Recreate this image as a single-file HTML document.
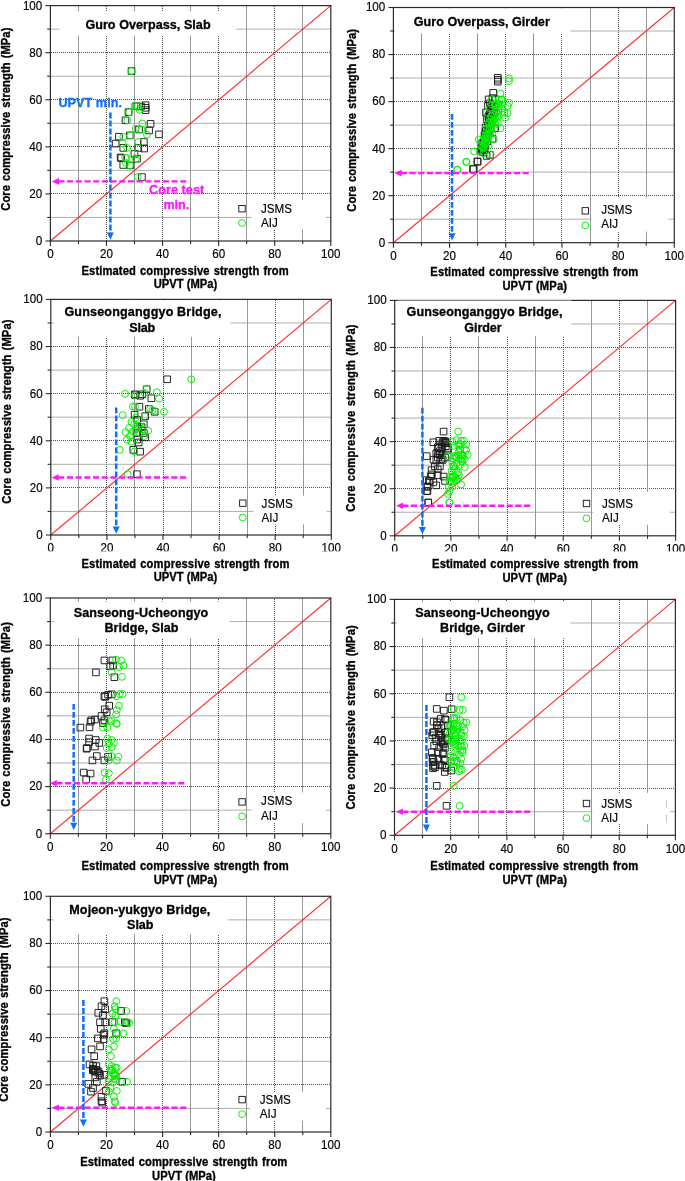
<!DOCTYPE html>
<html><head><meta charset="utf-8"><title>Core compressive strength vs UPVT estimate</title>
<style>html,body{margin:0;padding:0;background:#fff}body{width:685px;height:1181px;overflow:hidden;font-family:"Liberation Sans",sans-serif}svg{display:block;will-change:transform}</style>
</head><body>
<svg width="685" height="1181" viewBox="0 0 685 1181" font-family="Liberation Sans, sans-serif">
<rect width="685" height="1181" fill="#fff"/>
<g id="p1">
<line x1="50.4" y1="217.46" x2="330.8" y2="217.46" stroke="#9a9a9a" stroke-width="0.8"/>
<line x1="78.5" y1="5.6" x2="78.5" y2="241" stroke="#8c8c8c" stroke-width="0.9"/>
<line x1="51" y1="193.5" x2="330.8" y2="193.5" stroke="#4a4a4a" stroke-width="1" stroke-dasharray="1 1"/>
<line x1="106.5" y1="6" x2="106.5" y2="241" stroke="#4a4a4a" stroke-width="1" stroke-dasharray="1 1"/>
<line x1="50.4" y1="170.38" x2="330.8" y2="170.38" stroke="#9a9a9a" stroke-width="0.8"/>
<line x1="134.5" y1="5.6" x2="134.5" y2="241" stroke="#8c8c8c" stroke-width="0.9"/>
<line x1="51" y1="146.5" x2="330.8" y2="146.5" stroke="#4a4a4a" stroke-width="1" stroke-dasharray="1 1"/>
<line x1="162.5" y1="6" x2="162.5" y2="241" stroke="#4a4a4a" stroke-width="1" stroke-dasharray="1 1"/>
<line x1="50.4" y1="123.3" x2="330.8" y2="123.3" stroke="#9a9a9a" stroke-width="0.8"/>
<line x1="190.5" y1="5.6" x2="190.5" y2="241" stroke="#8c8c8c" stroke-width="0.9"/>
<line x1="51" y1="99.5" x2="330.8" y2="99.5" stroke="#4a4a4a" stroke-width="1" stroke-dasharray="1 1"/>
<line x1="218.5" y1="6" x2="218.5" y2="241" stroke="#4a4a4a" stroke-width="1" stroke-dasharray="1 1"/>
<line x1="50.4" y1="76.22" x2="330.8" y2="76.22" stroke="#9a9a9a" stroke-width="0.8"/>
<line x1="246.5" y1="5.6" x2="246.5" y2="241" stroke="#8c8c8c" stroke-width="0.9"/>
<line x1="51" y1="52.5" x2="330.8" y2="52.5" stroke="#4a4a4a" stroke-width="1" stroke-dasharray="1 1"/>
<line x1="274.5" y1="6" x2="274.5" y2="241" stroke="#4a4a4a" stroke-width="1" stroke-dasharray="1 1"/>
<line x1="50.4" y1="29.14" x2="330.8" y2="29.14" stroke="#9a9a9a" stroke-width="0.8"/>
<line x1="302.5" y1="5.6" x2="302.5" y2="241" stroke="#8c8c8c" stroke-width="0.9"/>
<rect x="59.6" y="11.1" width="176.6" height="24.5" fill="#fff"/>
<rect x="251.4" y="200.2" width="74.6" height="29.2" fill="#fff"/>
<line x1="50.4" y1="241" x2="330.8" y2="5.6" stroke="#ff3030" stroke-width="1.15"/>
<line x1="45.4" y1="241" x2="50.4" y2="241" stroke="#2c2c2c" stroke-width="1.1"/>
<line x1="50.4" y1="241" x2="50.4" y2="246" stroke="#2c2c2c" stroke-width="1.1"/>
<line x1="47.2" y1="217.46" x2="50.4" y2="217.46" stroke="#2c2c2c" stroke-width="1.1"/>
<line x1="78.44" y1="241" x2="78.44" y2="244" stroke="#2c2c2c" stroke-width="1.1"/>
<line x1="45.4" y1="193.92" x2="50.4" y2="193.92" stroke="#2c2c2c" stroke-width="1.1"/>
<line x1="106.48" y1="241" x2="106.48" y2="246" stroke="#2c2c2c" stroke-width="1.1"/>
<line x1="47.2" y1="170.38" x2="50.4" y2="170.38" stroke="#2c2c2c" stroke-width="1.1"/>
<line x1="134.52" y1="241" x2="134.52" y2="244" stroke="#2c2c2c" stroke-width="1.1"/>
<line x1="45.4" y1="146.84" x2="50.4" y2="146.84" stroke="#2c2c2c" stroke-width="1.1"/>
<line x1="162.56" y1="241" x2="162.56" y2="246" stroke="#2c2c2c" stroke-width="1.1"/>
<line x1="47.2" y1="123.3" x2="50.4" y2="123.3" stroke="#2c2c2c" stroke-width="1.1"/>
<line x1="190.6" y1="241" x2="190.6" y2="244" stroke="#2c2c2c" stroke-width="1.1"/>
<line x1="45.4" y1="99.76" x2="50.4" y2="99.76" stroke="#2c2c2c" stroke-width="1.1"/>
<line x1="218.64" y1="241" x2="218.64" y2="246" stroke="#2c2c2c" stroke-width="1.1"/>
<line x1="47.2" y1="76.22" x2="50.4" y2="76.22" stroke="#2c2c2c" stroke-width="1.1"/>
<line x1="246.68" y1="241" x2="246.68" y2="244" stroke="#2c2c2c" stroke-width="1.1"/>
<line x1="45.4" y1="52.68" x2="50.4" y2="52.68" stroke="#2c2c2c" stroke-width="1.1"/>
<line x1="274.72" y1="241" x2="274.72" y2="246" stroke="#2c2c2c" stroke-width="1.1"/>
<line x1="47.2" y1="29.14" x2="50.4" y2="29.14" stroke="#2c2c2c" stroke-width="1.1"/>
<line x1="302.76" y1="241" x2="302.76" y2="244" stroke="#2c2c2c" stroke-width="1.1"/>
<line x1="45.4" y1="5.6" x2="50.4" y2="5.6" stroke="#2c2c2c" stroke-width="1.1"/>
<line x1="330.8" y1="241" x2="330.8" y2="246" stroke="#2c2c2c" stroke-width="1.1"/>
<rect x="50.4" y="5.6" width="280.4" height="235.4" fill="none" stroke="#2c2c2c" stroke-width="1.2"/>
<text transform="translate(42.3,244.9) scale(1,1.075)" font-size="11.65" stroke="#000" stroke-width="0.15" fill="#000" text-anchor="end">0</text>
<text transform="translate(50.4,258.4) scale(1,1.075)" font-size="11.65" stroke="#000" stroke-width="0.15" fill="#000" text-anchor="middle">0</text>
<text transform="translate(42.3,197.82) scale(1,1.075)" font-size="11.65" stroke="#000" stroke-width="0.15" fill="#000" text-anchor="end">20</text>
<text transform="translate(106.48,258.4) scale(1,1.075)" font-size="11.65" stroke="#000" stroke-width="0.15" fill="#000" text-anchor="middle">20</text>
<text transform="translate(42.3,150.74) scale(1,1.075)" font-size="11.65" stroke="#000" stroke-width="0.15" fill="#000" text-anchor="end">40</text>
<text transform="translate(162.56,258.4) scale(1,1.075)" font-size="11.65" stroke="#000" stroke-width="0.15" fill="#000" text-anchor="middle">40</text>
<text transform="translate(42.3,103.66) scale(1,1.075)" font-size="11.65" stroke="#000" stroke-width="0.15" fill="#000" text-anchor="end">60</text>
<text transform="translate(218.64,258.4) scale(1,1.075)" font-size="11.65" stroke="#000" stroke-width="0.15" fill="#000" text-anchor="middle">60</text>
<text transform="translate(42.3,56.58) scale(1,1.075)" font-size="11.65" stroke="#000" stroke-width="0.15" fill="#000" text-anchor="end">80</text>
<text transform="translate(274.72,258.4) scale(1,1.075)" font-size="11.65" stroke="#000" stroke-width="0.15" fill="#000" text-anchor="middle">80</text>
<text transform="translate(42.3,9.5) scale(1,1.075)" font-size="11.65" stroke="#000" stroke-width="0.15" fill="#000" text-anchor="end">100</text>
<text transform="translate(330.8,258.4) scale(1,1.075)" font-size="11.65" stroke="#000" stroke-width="0.15" fill="#000" text-anchor="middle">100</text>
<text transform="translate(81.5,274.6) scale(1,1.085)" font-size="11.2" font-weight="bold" stroke="#000" stroke-width="0.3" fill="#000" textLength="207.1" lengthAdjust="spacing" word-spacing="0.8">Estimated compressive strength from</text>
<text transform="translate(153.7,288.4) scale(1,1.085)" font-size="11.2" font-weight="bold" stroke="#000" stroke-width="0.3" fill="#000" textLength="63.6" lengthAdjust="spacing">UPVT (MPa)</text>
<text transform="translate(9.9,210.7) rotate(-90) scale(1,1.09)" font-size="11.2" font-weight="bold" stroke="#000" stroke-width="0.3" fill="#000" textLength="183.1" lengthAdjust="spacing" word-spacing="0.8">Core compressive strength (MPa)</text>
<path d="M128.23 67.72h6.6v6.6h-6.6zM133.09 102.94h6.6v6.6h-6.6zM137.69 103.2h6.6v6.6h-6.6zM142.29 101.89h6.6v6.6h-6.6zM142.29 104.52h6.6v6.6h-6.6zM142.29 106.88h6.6v6.6h-6.6zM125.21 108.86h6.6v6.6h-6.6zM122.19 117h6.6v6.6h-6.6zM147.28 120.55h6.6v6.6h-6.6zM135.72 126.2h6.6v6.6h-6.6zM145.84 127.12h6.6v6.6h-6.6zM155.69 131.06h6.6v6.6h-6.6zM115.62 133.43h6.6v6.6h-6.6zM126.52 132.11h6.6v6.6h-6.6zM112.33 140.26h6.6v6.6h-6.6zM140.58 138.68h6.6v6.6h-6.6zM119.95 144.6h6.6v6.6h-6.6zM140.98 145.25h6.6v6.6h-6.6zM135.06 144.6h6.6v6.6h-6.6zM131.12 150.51h6.6v6.6h-6.6zM117.32 154.19h6.6v6.6h-6.6zM117.98 154.72h6.6v6.6h-6.6zM133.75 155.37h6.6v6.6h-6.6zM119.95 161.68h6.6v6.6h-6.6zM127.18 162.07h6.6v6.6h-6.6zM138.61 173.77h6.6v6.6h-6.6z" fill="none" stroke="#1e1e1e" stroke-width="0.95"/>
<g fill="none" stroke="#00f000" stroke-width="0.95"><circle cx="131.53" cy="71.02" r="3.45"/><circle cx="134.42" cy="105.85" r="3.45"/><circle cx="137.71" cy="106.5" r="3.45"/><circle cx="139.68" cy="109.79" r="3.45"/><circle cx="129.43" cy="112.16" r="3.45"/><circle cx="127.19" cy="120.3" r="3.45"/><circle cx="142.31" cy="123.59" r="3.45"/><circle cx="135.74" cy="128.84" r="3.45"/><circle cx="141.25" cy="129.5" r="3.45"/><circle cx="146.91" cy="134.76" r="3.45"/><circle cx="123.25" cy="136.73" r="3.45"/><circle cx="130.48" cy="135.41" r="3.45"/><circle cx="122.6" cy="143.3" r="3.45"/><circle cx="138.36" cy="141.98" r="3.45"/><circle cx="127.19" cy="147.9" r="3.45"/><circle cx="134.42" cy="153.81" r="3.45"/><circle cx="125.22" cy="157.75" r="3.45"/><circle cx="126.54" cy="158.02" r="3.45"/><circle cx="135.74" cy="158.67" r="3.45"/><circle cx="125.88" cy="163.01" r="3.45"/><circle cx="129.82" cy="165.37" r="3.45"/><circle cx="137.71" cy="177.07" r="3.45"/></g>
<line x1="186.3" y1="181.4" x2="57.8" y2="181.4" stroke="#ff18ff" stroke-width="2.4" stroke-dasharray="6.1 2.6"/>
<path d="M51.8 181.4l7.2 -3.3v6.6z" fill="#ff18ff"/>
<line x1="110.4" y1="112.6" x2="110.4" y2="234.7" stroke="#0f6ffa" stroke-width="2.5" stroke-dasharray="5.9 2.1"/>
<path d="M110.4 239.7l-3.5 -7.3h7z" fill="#0f6ffa"/>
<text transform="translate(85.4,29.2) scale(1,1.08)" font-size="12.6" font-weight="bold" stroke="#000" stroke-width="0.3" fill="#000" textLength="125.2" lengthAdjust="spacing">Guro Overpass, Slab</text>
<rect x="238.8" y="205.5" width="6.4" height="6.4" fill="none" stroke="#1e1e1e" stroke-width="0.95"/>
<circle cx="242" cy="223" r="3.45" fill="none" stroke="#00f000" stroke-width="0.95"/>
<text transform="translate(261,212.7) scale(1,1.12)" font-size="11.65" stroke="#000" stroke-width="0.15" fill="#000">JSMS</text>
<text transform="translate(261,226.7) scale(1,1.12)" font-size="11.65" stroke="#000" stroke-width="0.15" fill="#000">AIJ</text>
<text transform="translate(58.4,106.5) scale(1,1.08)" font-size="12.6" font-weight="bold" stroke="#0f6ffa" stroke-width="0.3" fill="#0f6ffa" textLength="63.6" lengthAdjust="spacing">UPVT min.</text>
<text transform="translate(149,193.5) scale(1,1.08)" font-size="12.6" font-weight="bold" stroke="#ff18ff" stroke-width="0.3" fill="#ff18ff" textLength="55.2" lengthAdjust="spacing">Core test</text>
<text transform="translate(163.5,208.5) scale(1,1.08)" font-size="12.6" font-weight="bold" stroke="#ff18ff" stroke-width="0.3" fill="#ff18ff" textLength="25.7" lengthAdjust="spacing">min.</text>
</g>
<g id="p2">
<line x1="393.4" y1="219.18" x2="674.3" y2="219.18" stroke="#9a9a9a" stroke-width="0.8"/>
<line x1="421.5" y1="7.5" x2="421.5" y2="242.7" stroke="#8c8c8c" stroke-width="0.9"/>
<line x1="394" y1="195.5" x2="674.3" y2="195.5" stroke="#4a4a4a" stroke-width="1" stroke-dasharray="1 1"/>
<line x1="449.5" y1="8" x2="449.5" y2="242.7" stroke="#4a4a4a" stroke-width="1" stroke-dasharray="1 1"/>
<line x1="393.4" y1="172.14" x2="674.3" y2="172.14" stroke="#9a9a9a" stroke-width="0.8"/>
<line x1="477.5" y1="7.5" x2="477.5" y2="242.7" stroke="#8c8c8c" stroke-width="0.9"/>
<line x1="394" y1="148.5" x2="674.3" y2="148.5" stroke="#4a4a4a" stroke-width="1" stroke-dasharray="1 1"/>
<line x1="505.5" y1="8" x2="505.5" y2="242.7" stroke="#4a4a4a" stroke-width="1" stroke-dasharray="1 1"/>
<line x1="393.4" y1="125.1" x2="674.3" y2="125.1" stroke="#9a9a9a" stroke-width="0.8"/>
<line x1="533.5" y1="7.5" x2="533.5" y2="242.7" stroke="#8c8c8c" stroke-width="0.9"/>
<line x1="394" y1="101.5" x2="674.3" y2="101.5" stroke="#4a4a4a" stroke-width="1" stroke-dasharray="1 1"/>
<line x1="561.5" y1="8" x2="561.5" y2="242.7" stroke="#4a4a4a" stroke-width="1" stroke-dasharray="1 1"/>
<line x1="393.4" y1="78.06" x2="674.3" y2="78.06" stroke="#9a9a9a" stroke-width="0.8"/>
<line x1="590.5" y1="7.5" x2="590.5" y2="242.7" stroke="#8c8c8c" stroke-width="0.9"/>
<line x1="394" y1="54.5" x2="674.3" y2="54.5" stroke="#4a4a4a" stroke-width="1" stroke-dasharray="1 1"/>
<line x1="618.5" y1="8" x2="618.5" y2="242.7" stroke="#4a4a4a" stroke-width="1" stroke-dasharray="1 1"/>
<line x1="393.4" y1="31.02" x2="674.3" y2="31.02" stroke="#9a9a9a" stroke-width="0.8"/>
<line x1="646.5" y1="7.5" x2="646.5" y2="242.7" stroke="#8c8c8c" stroke-width="0.9"/>
<rect x="395" y="8.3" width="175.5" height="25.3" fill="#fff"/>
<rect x="591.5" y="197.8" width="77" height="33.8" fill="#fff"/>
<line x1="393.4" y1="242.7" x2="674.3" y2="7.5" stroke="#ff3030" stroke-width="1.15"/>
<line x1="388.4" y1="242.7" x2="393.4" y2="242.7" stroke="#2c2c2c" stroke-width="1.1"/>
<line x1="393.4" y1="242.7" x2="393.4" y2="247.7" stroke="#2c2c2c" stroke-width="1.1"/>
<line x1="390.2" y1="219.18" x2="393.4" y2="219.18" stroke="#2c2c2c" stroke-width="1.1"/>
<line x1="421.49" y1="242.7" x2="421.49" y2="245.7" stroke="#2c2c2c" stroke-width="1.1"/>
<line x1="388.4" y1="195.66" x2="393.4" y2="195.66" stroke="#2c2c2c" stroke-width="1.1"/>
<line x1="449.58" y1="242.7" x2="449.58" y2="247.7" stroke="#2c2c2c" stroke-width="1.1"/>
<line x1="390.2" y1="172.14" x2="393.4" y2="172.14" stroke="#2c2c2c" stroke-width="1.1"/>
<line x1="477.67" y1="242.7" x2="477.67" y2="245.7" stroke="#2c2c2c" stroke-width="1.1"/>
<line x1="388.4" y1="148.62" x2="393.4" y2="148.62" stroke="#2c2c2c" stroke-width="1.1"/>
<line x1="505.76" y1="242.7" x2="505.76" y2="247.7" stroke="#2c2c2c" stroke-width="1.1"/>
<line x1="390.2" y1="125.1" x2="393.4" y2="125.1" stroke="#2c2c2c" stroke-width="1.1"/>
<line x1="533.85" y1="242.7" x2="533.85" y2="245.7" stroke="#2c2c2c" stroke-width="1.1"/>
<line x1="388.4" y1="101.58" x2="393.4" y2="101.58" stroke="#2c2c2c" stroke-width="1.1"/>
<line x1="561.94" y1="242.7" x2="561.94" y2="247.7" stroke="#2c2c2c" stroke-width="1.1"/>
<line x1="390.2" y1="78.06" x2="393.4" y2="78.06" stroke="#2c2c2c" stroke-width="1.1"/>
<line x1="590.03" y1="242.7" x2="590.03" y2="245.7" stroke="#2c2c2c" stroke-width="1.1"/>
<line x1="388.4" y1="54.54" x2="393.4" y2="54.54" stroke="#2c2c2c" stroke-width="1.1"/>
<line x1="618.12" y1="242.7" x2="618.12" y2="247.7" stroke="#2c2c2c" stroke-width="1.1"/>
<line x1="390.2" y1="31.02" x2="393.4" y2="31.02" stroke="#2c2c2c" stroke-width="1.1"/>
<line x1="646.21" y1="242.7" x2="646.21" y2="245.7" stroke="#2c2c2c" stroke-width="1.1"/>
<line x1="388.4" y1="7.5" x2="393.4" y2="7.5" stroke="#2c2c2c" stroke-width="1.1"/>
<line x1="674.3" y1="242.7" x2="674.3" y2="247.7" stroke="#2c2c2c" stroke-width="1.1"/>
<rect x="393.4" y="7.5" width="280.9" height="235.2" fill="none" stroke="#2c2c2c" stroke-width="1.2"/>
<text transform="translate(385.3,246.6) scale(1,1.075)" font-size="11.65" stroke="#000" stroke-width="0.15" fill="#000" text-anchor="end">0</text>
<text transform="translate(393.4,259.5) scale(1,1.075)" font-size="11.65" stroke="#000" stroke-width="0.15" fill="#000" text-anchor="middle">0</text>
<text transform="translate(385.3,199.56) scale(1,1.075)" font-size="11.65" stroke="#000" stroke-width="0.15" fill="#000" text-anchor="end">20</text>
<text transform="translate(449.58,259.5) scale(1,1.075)" font-size="11.65" stroke="#000" stroke-width="0.15" fill="#000" text-anchor="middle">20</text>
<text transform="translate(385.3,152.52) scale(1,1.075)" font-size="11.65" stroke="#000" stroke-width="0.15" fill="#000" text-anchor="end">40</text>
<text transform="translate(505.76,259.5) scale(1,1.075)" font-size="11.65" stroke="#000" stroke-width="0.15" fill="#000" text-anchor="middle">40</text>
<text transform="translate(385.3,105.48) scale(1,1.075)" font-size="11.65" stroke="#000" stroke-width="0.15" fill="#000" text-anchor="end">60</text>
<text transform="translate(561.94,259.5) scale(1,1.075)" font-size="11.65" stroke="#000" stroke-width="0.15" fill="#000" text-anchor="middle">60</text>
<text transform="translate(385.3,58.44) scale(1,1.075)" font-size="11.65" stroke="#000" stroke-width="0.15" fill="#000" text-anchor="end">80</text>
<text transform="translate(618.12,259.5) scale(1,1.075)" font-size="11.65" stroke="#000" stroke-width="0.15" fill="#000" text-anchor="middle">80</text>
<text transform="translate(385.3,11.4) scale(1,1.075)" font-size="11.65" stroke="#000" stroke-width="0.15" fill="#000" text-anchor="end">100</text>
<text transform="translate(674.3,259.5) scale(1,1.075)" font-size="11.65" stroke="#000" stroke-width="0.15" fill="#000" text-anchor="middle">100</text>
<text transform="translate(430.3,275.5) scale(1,1.085)" font-size="11.2" font-weight="bold" stroke="#000" stroke-width="0.3" fill="#000" textLength="207.9" lengthAdjust="spacing" word-spacing="0.8">Estimated compressive strength from</text>
<text transform="translate(502.4,289.7) scale(1,1.085)" font-size="11.2" font-weight="bold" stroke="#000" stroke-width="0.3" fill="#000" textLength="64.6" lengthAdjust="spacing">UPVT (MPa)</text>
<text transform="translate(355.5,211.7) rotate(-90) scale(1,1.09)" font-size="11.2" font-weight="bold" stroke="#000" stroke-width="0.3" fill="#000" textLength="182.8" lengthAdjust="spacing" word-spacing="0.8">Core compressive strength (MPa)</text>
<path d="M470.21 165.77h6.6v6.6h-6.6zM474.15 158.15h6.6v6.6h-6.6zM486.63 151.58h6.6v6.6h-6.6zM479.41 148.68h6.6v6.6h-6.6zM482.04 142.11h6.6v6.6h-6.6zM481.38 136.86h6.6v6.6h-6.6zM489.26 135.54h6.6v6.6h-6.6zM482.69 127.66h6.6v6.6h-6.6zM484.66 122.4h6.6v6.6h-6.6zM491.89 125.03h6.6v6.6h-6.6zM485.98 117.15h6.6v6.6h-6.6zM488.61 113.2h6.6v6.6h-6.6zM490.58 109.26h6.6v6.6h-6.6zM482.69 109.26h6.6v6.6h-6.6zM484.66 102.69h6.6v6.6h-6.6zM486.63 100.06h6.6v6.6h-6.6zM485.32 96.12h6.6v6.6h-6.6zM489.26 94.81h6.6v6.6h-6.6zM491.89 96.12h6.6v6.6h-6.6zM489.92 89.55h6.6v6.6h-6.6zM494.52 74.44h6.6v6.6h-6.6zM494.52 76.41h6.6v6.6h-6.6zM494.52 78.38h6.6v6.6h-6.6zM483.35 115.83h6.6v6.6h-6.6zM487.29 119.77h6.6v6.6h-6.6zM484.01 132.92h6.6v6.6h-6.6zM482.04 130.29h6.6v6.6h-6.6zM480.06 140.8h6.6v6.6h-6.6zM477.44 147.37h6.6v6.6h-6.6zM487.95 106.63h6.6v6.6h-6.6zM488.61 104.01h6.6v6.6h-6.6zM485.98 111.89h6.6v6.6h-6.6zM489.26 115.83h6.6v6.6h-6.6zM487.29 125.03h6.6v6.6h-6.6zM485.32 130.29h6.6v6.6h-6.6zM484.01 138.17h6.6v6.6h-6.6zM481.38 146.06h6.6v6.6h-6.6zM483.35 152.63h6.6v6.6h-6.6zM481.25 131.63h6.6v6.6h-6.6zM479.52 144.43h6.6v6.6h-6.6zM479.24 144.34h6.6v6.6h-6.6zM482.32 124.25h6.6v6.6h-6.6zM484.99 124.82h6.6v6.6h-6.6zM481.74 137.83h6.6v6.6h-6.6zM485.31 118.84h6.6v6.6h-6.6zM480.39 145.62h6.6v6.6h-6.6zM478.88 140.41h6.6v6.6h-6.6zM487.5 104.93h6.6v6.6h-6.6zM485.99 114.39h6.6v6.6h-6.6zM477.65 144.53h6.6v6.6h-6.6zM486.71 111.54h6.6v6.6h-6.6zM485.62 116.61h6.6v6.6h-6.6zM489.14 105.21h6.6v6.6h-6.6zM485.75 118.72h6.6v6.6h-6.6zM486.81 110.65h6.6v6.6h-6.6zM479.66 143h6.6v6.6h-6.6zM480.34 139.28h6.6v6.6h-6.6zM487.8 112.88h6.6v6.6h-6.6zM488.73 102.03h6.6v6.6h-6.6zM486.2 116.55h6.6v6.6h-6.6zM490.61 103.36h6.6v6.6h-6.6zM485.16 113.43h6.6v6.6h-6.6zM488.38 114.67h6.6v6.6h-6.6zM481.62 133.79h6.6v6.6h-6.6zM478.63 146.6h6.6v6.6h-6.6zM478.33 143.08h6.6v6.6h-6.6zM469.7 165.7h6.6v6.6h-6.6zM474.3 158.4h6.6v6.6h-6.6z" fill="none" stroke="#1e1e1e" stroke-width="0.95"/>
<g fill="none" stroke="#00f000" stroke-width="0.95"><circle cx="457.08" cy="169.72" r="3.45"/><circle cx="466.02" cy="161.84" r="3.45"/><circle cx="474.17" cy="151.33" r="3.45"/><circle cx="478.76" cy="139.5" r="3.45"/><circle cx="479.42" cy="150.67" r="3.45"/><circle cx="483.36" cy="153.3" r="3.45"/><circle cx="490.59" cy="154.61" r="3.45"/><circle cx="493.88" cy="139.5" r="3.45"/><circle cx="484.68" cy="129.65" r="3.45"/><circle cx="500.45" cy="128.33" r="3.45"/><circle cx="497.82" cy="123.07" r="3.45"/><circle cx="505.05" cy="117.82" r="3.45"/><circle cx="507.67" cy="113.22" r="3.45"/><circle cx="504.39" cy="112.56" r="3.45"/><circle cx="507.67" cy="105.99" r="3.45"/><circle cx="508.99" cy="102.71" r="3.45"/><circle cx="501.76" cy="99.42" r="3.45"/><circle cx="500.45" cy="93.51" r="3.45"/><circle cx="508.99" cy="78.4" r="3.45"/><circle cx="508.99" cy="81.02" r="3.45"/><circle cx="486.65" cy="112.56" r="3.45"/><circle cx="489.93" cy="108.62" r="3.45"/><circle cx="491.91" cy="104.68" r="3.45"/><circle cx="495.19" cy="103.36" r="3.45"/><circle cx="499.13" cy="105.99" r="3.45"/><circle cx="501.76" cy="108.62" r="3.45"/><circle cx="492.56" cy="113.88" r="3.45"/><circle cx="495.19" cy="117.82" r="3.45"/><circle cx="489.93" cy="119.13" r="3.45"/><circle cx="488.62" cy="123.07" r="3.45"/><circle cx="492.56" cy="123.07" r="3.45"/><circle cx="491.25" cy="127.02" r="3.45"/><circle cx="487.31" cy="128.33" r="3.45"/><circle cx="485.99" cy="133.59" r="3.45"/><circle cx="489.93" cy="133.59" r="3.45"/><circle cx="484.68" cy="138.84" r="3.45"/><circle cx="482.05" cy="141.47" r="3.45"/><circle cx="483.36" cy="146.73" r="3.45"/><circle cx="480.74" cy="145.41" r="3.45"/><circle cx="496.5" cy="112.56" r="3.45"/><circle cx="497.82" cy="116.5" r="3.45"/><circle cx="493.88" cy="120.45" r="3.45"/><circle cx="495.19" cy="124.39" r="3.45"/><circle cx="491.91" cy="99.42" r="3.45"/><circle cx="484.71" cy="143.53" r="3.45"/><circle cx="494.83" cy="104.71" r="3.45"/><circle cx="495.24" cy="122.8" r="3.45"/><circle cx="496.02" cy="104.99" r="3.45"/><circle cx="492.36" cy="133.26" r="3.45"/><circle cx="484.57" cy="141.89" r="3.45"/><circle cx="487.84" cy="138.69" r="3.45"/><circle cx="485.13" cy="136.6" r="3.45"/><circle cx="490.43" cy="132.69" r="3.45"/><circle cx="494.95" cy="114.75" r="3.45"/><circle cx="491.7" cy="116.39" r="3.45"/><circle cx="498.66" cy="110.61" r="3.45"/><circle cx="489.68" cy="128.8" r="3.45"/><circle cx="491.12" cy="115.97" r="3.45"/><circle cx="485.35" cy="139.19" r="3.45"/><circle cx="481.93" cy="146.81" r="3.45"/><circle cx="485.05" cy="143.84" r="3.45"/><circle cx="498.38" cy="103.6" r="3.45"/><circle cx="487.22" cy="136.98" r="3.45"/><circle cx="488.56" cy="145.77" r="3.45"/><circle cx="491.35" cy="124.87" r="3.45"/><circle cx="484.93" cy="144.56" r="3.45"/><circle cx="494.72" cy="105.6" r="3.45"/><circle cx="498.97" cy="99.57" r="3.45"/><circle cx="489.52" cy="122.21" r="3.45"/><circle cx="501.59" cy="99.86" r="3.45"/><circle cx="487.49" cy="135.9" r="3.45"/><circle cx="496.29" cy="110.98" r="3.45"/><circle cx="487.58" cy="134.32" r="3.45"/><circle cx="501.62" cy="99.87" r="3.45"/><circle cx="498.36" cy="106.79" r="3.45"/><circle cx="491.29" cy="121.98" r="3.45"/><circle cx="483.39" cy="148.44" r="3.45"/><circle cx="497.88" cy="114.1" r="3.45"/><circle cx="457.5" cy="169.7" r="3.45"/><circle cx="466.5" cy="162" r="3.45"/></g>
<line x1="528.7" y1="173.1" x2="400.4" y2="173.1" stroke="#ff18ff" stroke-width="2.4" stroke-dasharray="6.1 2.6"/>
<path d="M394.4 173.1l7.2 -3.3v6.6z" fill="#ff18ff"/>
<line x1="452" y1="113.9" x2="452" y2="235.5" stroke="#0f6ffa" stroke-width="2.5" stroke-dasharray="5.9 2.1"/>
<path d="M452 240.5l-3.5 -7.3h7z" fill="#0f6ffa"/>
<text transform="translate(413.8,26.3) scale(1,1.08)" font-size="12.6" font-weight="bold" stroke="#000" stroke-width="0.3" fill="#000" textLength="136" lengthAdjust="spacing">Guro Overpass, Girder</text>
<rect x="582.1" y="207.6" width="6.4" height="6.4" fill="none" stroke="#1e1e1e" stroke-width="0.95"/>
<circle cx="585.3" cy="225.4" r="3.45" fill="none" stroke="#00f000" stroke-width="0.95"/>
<text transform="translate(601.2,213.5) scale(1,1.12)" font-size="11.65" stroke="#000" stroke-width="0.15" fill="#000">JSMS</text>
<text transform="translate(601.2,227.7) scale(1,1.12)" font-size="11.65" stroke="#000" stroke-width="0.15" fill="#000">AIJ</text>
</g>
<g id="p3">
<line x1="50.8" y1="511.44" x2="331.3" y2="511.44" stroke="#9a9a9a" stroke-width="0.8"/>
<line x1="78.5" y1="299.4" x2="78.5" y2="535" stroke="#8c8c8c" stroke-width="0.9"/>
<line x1="51" y1="487.5" x2="331.3" y2="487.5" stroke="#4a4a4a" stroke-width="1" stroke-dasharray="1 1"/>
<line x1="106.5" y1="300" x2="106.5" y2="535" stroke="#4a4a4a" stroke-width="1" stroke-dasharray="1 1"/>
<line x1="50.8" y1="464.32" x2="331.3" y2="464.32" stroke="#9a9a9a" stroke-width="0.8"/>
<line x1="134.5" y1="299.4" x2="134.5" y2="535" stroke="#8c8c8c" stroke-width="0.9"/>
<line x1="51" y1="440.5" x2="331.3" y2="440.5" stroke="#4a4a4a" stroke-width="1" stroke-dasharray="1 1"/>
<line x1="163.5" y1="300" x2="163.5" y2="535" stroke="#4a4a4a" stroke-width="1" stroke-dasharray="1 1"/>
<line x1="50.8" y1="417.2" x2="331.3" y2="417.2" stroke="#9a9a9a" stroke-width="0.8"/>
<line x1="191.5" y1="299.4" x2="191.5" y2="535" stroke="#8c8c8c" stroke-width="0.9"/>
<line x1="51" y1="393.5" x2="331.3" y2="393.5" stroke="#4a4a4a" stroke-width="1" stroke-dasharray="1 1"/>
<line x1="219.5" y1="300" x2="219.5" y2="535" stroke="#4a4a4a" stroke-width="1" stroke-dasharray="1 1"/>
<line x1="50.8" y1="370.08" x2="331.3" y2="370.08" stroke="#9a9a9a" stroke-width="0.8"/>
<line x1="247.5" y1="299.4" x2="247.5" y2="535" stroke="#8c8c8c" stroke-width="0.9"/>
<line x1="51" y1="346.5" x2="331.3" y2="346.5" stroke="#4a4a4a" stroke-width="1" stroke-dasharray="1 1"/>
<line x1="275.5" y1="300" x2="275.5" y2="535" stroke="#4a4a4a" stroke-width="1" stroke-dasharray="1 1"/>
<line x1="50.8" y1="322.96" x2="331.3" y2="322.96" stroke="#9a9a9a" stroke-width="0.8"/>
<line x1="303.5" y1="299.4" x2="303.5" y2="535" stroke="#8c8c8c" stroke-width="0.9"/>
<rect x="54" y="300.2" width="176.4" height="36.6" fill="#fff"/>
<rect x="253.2" y="495.6" width="73.6" height="28.8" fill="#fff"/>
<line x1="50.8" y1="535" x2="331.3" y2="299.4" stroke="#ff3030" stroke-width="1.15"/>
<line x1="45.8" y1="535" x2="50.8" y2="535" stroke="#2c2c2c" stroke-width="1.1"/>
<line x1="50.8" y1="535" x2="50.8" y2="540" stroke="#2c2c2c" stroke-width="1.1"/>
<line x1="47.6" y1="511.44" x2="50.8" y2="511.44" stroke="#2c2c2c" stroke-width="1.1"/>
<line x1="78.85" y1="535" x2="78.85" y2="538" stroke="#2c2c2c" stroke-width="1.1"/>
<line x1="45.8" y1="487.88" x2="50.8" y2="487.88" stroke="#2c2c2c" stroke-width="1.1"/>
<line x1="106.9" y1="535" x2="106.9" y2="540" stroke="#2c2c2c" stroke-width="1.1"/>
<line x1="47.6" y1="464.32" x2="50.8" y2="464.32" stroke="#2c2c2c" stroke-width="1.1"/>
<line x1="134.95" y1="535" x2="134.95" y2="538" stroke="#2c2c2c" stroke-width="1.1"/>
<line x1="45.8" y1="440.76" x2="50.8" y2="440.76" stroke="#2c2c2c" stroke-width="1.1"/>
<line x1="163" y1="535" x2="163" y2="540" stroke="#2c2c2c" stroke-width="1.1"/>
<line x1="47.6" y1="417.2" x2="50.8" y2="417.2" stroke="#2c2c2c" stroke-width="1.1"/>
<line x1="191.05" y1="535" x2="191.05" y2="538" stroke="#2c2c2c" stroke-width="1.1"/>
<line x1="45.8" y1="393.64" x2="50.8" y2="393.64" stroke="#2c2c2c" stroke-width="1.1"/>
<line x1="219.1" y1="535" x2="219.1" y2="540" stroke="#2c2c2c" stroke-width="1.1"/>
<line x1="47.6" y1="370.08" x2="50.8" y2="370.08" stroke="#2c2c2c" stroke-width="1.1"/>
<line x1="247.15" y1="535" x2="247.15" y2="538" stroke="#2c2c2c" stroke-width="1.1"/>
<line x1="45.8" y1="346.52" x2="50.8" y2="346.52" stroke="#2c2c2c" stroke-width="1.1"/>
<line x1="275.2" y1="535" x2="275.2" y2="540" stroke="#2c2c2c" stroke-width="1.1"/>
<line x1="47.6" y1="322.96" x2="50.8" y2="322.96" stroke="#2c2c2c" stroke-width="1.1"/>
<line x1="303.25" y1="535" x2="303.25" y2="538" stroke="#2c2c2c" stroke-width="1.1"/>
<line x1="45.8" y1="299.4" x2="50.8" y2="299.4" stroke="#2c2c2c" stroke-width="1.1"/>
<line x1="331.3" y1="535" x2="331.3" y2="540" stroke="#2c2c2c" stroke-width="1.1"/>
<rect x="50.8" y="299.4" width="280.5" height="235.6" fill="none" stroke="#2c2c2c" stroke-width="1.2"/>
<text transform="translate(42.7,538.9) scale(1,1.075)" font-size="11.65" stroke="#000" stroke-width="0.15" fill="#000" text-anchor="end">0</text>
<text transform="translate(50.8,552.2) scale(1,1.075)" font-size="11.65" stroke="#000" stroke-width="0.15" fill="#000" text-anchor="middle">0</text>
<text transform="translate(42.7,491.78) scale(1,1.075)" font-size="11.65" stroke="#000" stroke-width="0.15" fill="#000" text-anchor="end">20</text>
<text transform="translate(106.9,552.2) scale(1,1.075)" font-size="11.65" stroke="#000" stroke-width="0.15" fill="#000" text-anchor="middle">20</text>
<text transform="translate(42.7,444.66) scale(1,1.075)" font-size="11.65" stroke="#000" stroke-width="0.15" fill="#000" text-anchor="end">40</text>
<text transform="translate(163,552.2) scale(1,1.075)" font-size="11.65" stroke="#000" stroke-width="0.15" fill="#000" text-anchor="middle">40</text>
<text transform="translate(42.7,397.54) scale(1,1.075)" font-size="11.65" stroke="#000" stroke-width="0.15" fill="#000" text-anchor="end">60</text>
<text transform="translate(219.1,552.2) scale(1,1.075)" font-size="11.65" stroke="#000" stroke-width="0.15" fill="#000" text-anchor="middle">60</text>
<text transform="translate(42.7,350.42) scale(1,1.075)" font-size="11.65" stroke="#000" stroke-width="0.15" fill="#000" text-anchor="end">80</text>
<text transform="translate(275.2,552.2) scale(1,1.075)" font-size="11.65" stroke="#000" stroke-width="0.15" fill="#000" text-anchor="middle">80</text>
<text transform="translate(42.7,303.3) scale(1,1.075)" font-size="11.65" stroke="#000" stroke-width="0.15" fill="#000" text-anchor="end">100</text>
<text transform="translate(331.3,552.2) scale(1,1.075)" font-size="11.65" stroke="#000" stroke-width="0.15" fill="#000" text-anchor="middle">100</text>
<rect x="38.8" y="551.3" width="304.5" height="5" fill="#fff"/>
<text transform="translate(81.5,567.6) scale(1,1.085)" font-size="11.2" font-weight="bold" stroke="#000" stroke-width="0.3" fill="#000" textLength="207.9" lengthAdjust="spacing" word-spacing="0.8">Estimated compressive strength from</text>
<text transform="translate(153.7,581.4) scale(1,1.085)" font-size="11.2" font-weight="bold" stroke="#000" stroke-width="0.3" fill="#000" textLength="63.6" lengthAdjust="spacing">UPVT (MPa)</text>
<text transform="translate(10.6,503.7) rotate(-90) scale(1,1.09)" font-size="11.2" font-weight="bold" stroke="#000" stroke-width="0.3" fill="#000" textLength="184.2" lengthAdjust="spacing" word-spacing="0.8">Core compressive strength (MPa)</text>
<path d="M163.85 375.97h6.6v6.6h-6.6zM143.42 385.9h6.6v6.6h-6.6zM131.74 391.01h6.6v6.6h-6.6zM139.04 391.01h6.6v6.6h-6.6zM136.85 392.47h6.6v6.6h-6.6zM148.09 394.95h6.6v6.6h-6.6zM136.12 403.42h6.6v6.6h-6.6zM145.61 405.61h6.6v6.6h-6.6zM151.44 408.52h6.6v6.6h-6.6zM131.3 411.44h6.6v6.6h-6.6zM141.96 412.9h6.6v6.6h-6.6zM133.93 416.55h6.6v6.6h-6.6zM140.5 420.93h6.6v6.6h-6.6zM138.31 423.85h6.6v6.6h-6.6zM134.66 425.31h6.6v6.6h-6.6zM133.2 429.69h6.6v6.6h-6.6zM140.5 429.69h6.6v6.6h-6.6zM141.96 434.07h6.6v6.6h-6.6zM133.93 436.26h6.6v6.6h-6.6zM135.39 439.18h6.6v6.6h-6.6zM129.98 446.48h6.6v6.6h-6.6zM136.85 448.38h6.6v6.6h-6.6zM133.63 470.86h6.6v6.6h-6.6zM131.74 391.74h6.6v6.6h-6.6z" fill="none" stroke="#1e1e1e" stroke-width="0.95"/>
<g fill="none" stroke="#00f000" stroke-width="0.95"><circle cx="191.24" cy="379.27" r="3.45"/><circle cx="146.72" cy="388.47" r="3.45"/><circle cx="125.11" cy="393.87" r="3.45"/><circle cx="135.04" cy="395.04" r="3.45"/><circle cx="144.53" cy="392.85" r="3.45"/><circle cx="156.93" cy="392.12" r="3.45"/><circle cx="159.12" cy="398.69" r="3.45"/><circle cx="132.85" cy="406.42" r="3.45"/><circle cx="135.04" cy="406.72" r="3.45"/><circle cx="150.36" cy="408.91" r="3.45"/><circle cx="152.55" cy="410.36" r="3.45"/><circle cx="154.74" cy="411.09" r="3.45"/><circle cx="163.94" cy="411.82" r="3.45"/><circle cx="122.63" cy="415.18" r="3.45"/><circle cx="135.77" cy="417.66" r="3.45"/><circle cx="144.53" cy="416.2" r="3.45"/><circle cx="131.39" cy="422.04" r="3.45"/><circle cx="134.31" cy="424.23" r="3.45"/><circle cx="139.42" cy="425.69" r="3.45"/><circle cx="129.2" cy="427.88" r="3.45"/><circle cx="142.34" cy="429.34" r="3.45"/><circle cx="148.18" cy="430.8" r="3.45"/><circle cx="125.55" cy="432.26" r="3.45"/><circle cx="129.93" cy="435.91" r="3.45"/><circle cx="139.42" cy="432.99" r="3.45"/><circle cx="144.53" cy="435.91" r="3.45"/><circle cx="127.01" cy="439.56" r="3.45"/><circle cx="131.39" cy="441.75" r="3.45"/><circle cx="119.71" cy="449.78" r="3.45"/><circle cx="134.31" cy="451.68" r="3.45"/><circle cx="127.74" cy="474.16" r="3.45"/><circle cx="136.5" cy="428.61" r="3.45"/><circle cx="132.85" cy="431.53" r="3.45"/></g>
<line x1="186.1" y1="477.5" x2="57.5" y2="477.5" stroke="#ff18ff" stroke-width="2.4" stroke-dasharray="6.1 2.6"/>
<path d="M51.5 477.5l7.2 -3.3v6.6z" fill="#ff18ff"/>
<line x1="116.2" y1="407.4" x2="116.2" y2="528.7" stroke="#0f6ffa" stroke-width="2.5" stroke-dasharray="5.9 2.1"/>
<path d="M116.2 533.7l-3.5 -7.3h7z" fill="#0f6ffa"/>
<text transform="translate(64.4,316) scale(1,1.08)" font-size="12.6" font-weight="bold" stroke="#000" stroke-width="0.3" fill="#000" textLength="157" lengthAdjust="spacing">Gunseonganggyo Bridge,</text>
<text transform="translate(129.2,331.5) scale(1,1.08)" font-size="12.6" font-weight="bold" stroke="#000" stroke-width="0.3" fill="#000" textLength="26" lengthAdjust="spacing">Slab</text>
<rect x="239.6" y="500" width="6.4" height="6.4" fill="none" stroke="#1e1e1e" stroke-width="0.95"/>
<circle cx="242.8" cy="517.5" r="3.45" fill="none" stroke="#00f000" stroke-width="0.95"/>
<text transform="translate(261.6,507.7) scale(1,1.12)" font-size="11.65" stroke="#000" stroke-width="0.15" fill="#000">JSMS</text>
<text transform="translate(261.6,521.7) scale(1,1.12)" font-size="11.65" stroke="#000" stroke-width="0.15" fill="#000">AIJ</text>
</g>
<g id="p4">
<line x1="394.7" y1="512.26" x2="675.6" y2="512.26" stroke="#9a9a9a" stroke-width="0.8"/>
<line x1="422.5" y1="300.4" x2="422.5" y2="535.8" stroke="#8c8c8c" stroke-width="0.9"/>
<line x1="395" y1="488.5" x2="675.6" y2="488.5" stroke="#4a4a4a" stroke-width="1" stroke-dasharray="1 1"/>
<line x1="450.5" y1="301" x2="450.5" y2="535.8" stroke="#4a4a4a" stroke-width="1" stroke-dasharray="1 1"/>
<line x1="394.7" y1="465.18" x2="675.6" y2="465.18" stroke="#9a9a9a" stroke-width="0.8"/>
<line x1="478.5" y1="300.4" x2="478.5" y2="535.8" stroke="#8c8c8c" stroke-width="0.9"/>
<line x1="395" y1="441.5" x2="675.6" y2="441.5" stroke="#4a4a4a" stroke-width="1" stroke-dasharray="1 1"/>
<line x1="507.5" y1="301" x2="507.5" y2="535.8" stroke="#4a4a4a" stroke-width="1" stroke-dasharray="1 1"/>
<line x1="394.7" y1="418.1" x2="675.6" y2="418.1" stroke="#9a9a9a" stroke-width="0.8"/>
<line x1="535.5" y1="300.4" x2="535.5" y2="535.8" stroke="#8c8c8c" stroke-width="0.9"/>
<line x1="395" y1="394.5" x2="675.6" y2="394.5" stroke="#4a4a4a" stroke-width="1" stroke-dasharray="1 1"/>
<line x1="563.5" y1="301" x2="563.5" y2="535.8" stroke="#4a4a4a" stroke-width="1" stroke-dasharray="1 1"/>
<line x1="394.7" y1="371.02" x2="675.6" y2="371.02" stroke="#9a9a9a" stroke-width="0.8"/>
<line x1="591.5" y1="300.4" x2="591.5" y2="535.8" stroke="#8c8c8c" stroke-width="0.9"/>
<line x1="395" y1="347.5" x2="675.6" y2="347.5" stroke="#4a4a4a" stroke-width="1" stroke-dasharray="1 1"/>
<line x1="619.5" y1="301" x2="619.5" y2="535.8" stroke="#4a4a4a" stroke-width="1" stroke-dasharray="1 1"/>
<line x1="394.7" y1="323.94" x2="675.6" y2="323.94" stroke="#9a9a9a" stroke-width="0.8"/>
<line x1="647.5" y1="300.4" x2="647.5" y2="535.8" stroke="#8c8c8c" stroke-width="0.9"/>
<rect x="396.5" y="300.6" width="174.9" height="35.4" fill="#fff"/>
<rect x="593.3" y="492" width="76.6" height="32.9" fill="#fff"/>
<line x1="394.7" y1="535.8" x2="675.6" y2="300.4" stroke="#ff3030" stroke-width="1.15"/>
<line x1="389.7" y1="535.8" x2="394.7" y2="535.8" stroke="#2c2c2c" stroke-width="1.1"/>
<line x1="394.7" y1="535.8" x2="394.7" y2="540.8" stroke="#2c2c2c" stroke-width="1.1"/>
<line x1="391.5" y1="512.26" x2="394.7" y2="512.26" stroke="#2c2c2c" stroke-width="1.1"/>
<line x1="422.79" y1="535.8" x2="422.79" y2="538.8" stroke="#2c2c2c" stroke-width="1.1"/>
<line x1="389.7" y1="488.72" x2="394.7" y2="488.72" stroke="#2c2c2c" stroke-width="1.1"/>
<line x1="450.88" y1="535.8" x2="450.88" y2="540.8" stroke="#2c2c2c" stroke-width="1.1"/>
<line x1="391.5" y1="465.18" x2="394.7" y2="465.18" stroke="#2c2c2c" stroke-width="1.1"/>
<line x1="478.97" y1="535.8" x2="478.97" y2="538.8" stroke="#2c2c2c" stroke-width="1.1"/>
<line x1="389.7" y1="441.64" x2="394.7" y2="441.64" stroke="#2c2c2c" stroke-width="1.1"/>
<line x1="507.06" y1="535.8" x2="507.06" y2="540.8" stroke="#2c2c2c" stroke-width="1.1"/>
<line x1="391.5" y1="418.1" x2="394.7" y2="418.1" stroke="#2c2c2c" stroke-width="1.1"/>
<line x1="535.15" y1="535.8" x2="535.15" y2="538.8" stroke="#2c2c2c" stroke-width="1.1"/>
<line x1="389.7" y1="394.56" x2="394.7" y2="394.56" stroke="#2c2c2c" stroke-width="1.1"/>
<line x1="563.24" y1="535.8" x2="563.24" y2="540.8" stroke="#2c2c2c" stroke-width="1.1"/>
<line x1="391.5" y1="371.02" x2="394.7" y2="371.02" stroke="#2c2c2c" stroke-width="1.1"/>
<line x1="591.33" y1="535.8" x2="591.33" y2="538.8" stroke="#2c2c2c" stroke-width="1.1"/>
<line x1="389.7" y1="347.48" x2="394.7" y2="347.48" stroke="#2c2c2c" stroke-width="1.1"/>
<line x1="619.42" y1="535.8" x2="619.42" y2="540.8" stroke="#2c2c2c" stroke-width="1.1"/>
<line x1="391.5" y1="323.94" x2="394.7" y2="323.94" stroke="#2c2c2c" stroke-width="1.1"/>
<line x1="647.51" y1="535.8" x2="647.51" y2="538.8" stroke="#2c2c2c" stroke-width="1.1"/>
<line x1="389.7" y1="300.4" x2="394.7" y2="300.4" stroke="#2c2c2c" stroke-width="1.1"/>
<line x1="675.6" y1="535.8" x2="675.6" y2="540.8" stroke="#2c2c2c" stroke-width="1.1"/>
<rect x="394.7" y="300.4" width="280.9" height="235.4" fill="none" stroke="#2c2c2c" stroke-width="1.2"/>
<text transform="translate(386.6,539.7) scale(1,1.075)" font-size="11.65" stroke="#000" stroke-width="0.15" fill="#000" text-anchor="end">0</text>
<text transform="translate(394.7,553) scale(1,1.075)" font-size="11.65" stroke="#000" stroke-width="0.15" fill="#000" text-anchor="middle">0</text>
<text transform="translate(386.6,492.62) scale(1,1.075)" font-size="11.65" stroke="#000" stroke-width="0.15" fill="#000" text-anchor="end">20</text>
<text transform="translate(450.88,553) scale(1,1.075)" font-size="11.65" stroke="#000" stroke-width="0.15" fill="#000" text-anchor="middle">20</text>
<text transform="translate(386.6,445.54) scale(1,1.075)" font-size="11.65" stroke="#000" stroke-width="0.15" fill="#000" text-anchor="end">40</text>
<text transform="translate(507.06,553) scale(1,1.075)" font-size="11.65" stroke="#000" stroke-width="0.15" fill="#000" text-anchor="middle">40</text>
<text transform="translate(386.6,398.46) scale(1,1.075)" font-size="11.65" stroke="#000" stroke-width="0.15" fill="#000" text-anchor="end">60</text>
<text transform="translate(563.24,553) scale(1,1.075)" font-size="11.65" stroke="#000" stroke-width="0.15" fill="#000" text-anchor="middle">60</text>
<text transform="translate(386.6,351.38) scale(1,1.075)" font-size="11.65" stroke="#000" stroke-width="0.15" fill="#000" text-anchor="end">80</text>
<text transform="translate(619.42,553) scale(1,1.075)" font-size="11.65" stroke="#000" stroke-width="0.15" fill="#000" text-anchor="middle">80</text>
<text transform="translate(386.6,304.3) scale(1,1.075)" font-size="11.65" stroke="#000" stroke-width="0.15" fill="#000" text-anchor="end">100</text>
<text transform="translate(675.6,553) scale(1,1.075)" font-size="11.65" stroke="#000" stroke-width="0.15" fill="#000" text-anchor="middle">100</text>
<rect x="382.7" y="551.5" width="304.9" height="5" fill="#fff"/>
<text transform="translate(432.1,567.9) scale(1,1.085)" font-size="11.2" font-weight="bold" stroke="#000" stroke-width="0.3" fill="#000" textLength="206.1" lengthAdjust="spacing" word-spacing="0.8">Estimated compressive strength from</text>
<text transform="translate(502.4,581.7) scale(1,1.085)" font-size="11.2" font-weight="bold" stroke="#000" stroke-width="0.3" fill="#000" textLength="64.6" lengthAdjust="spacing">UPVT (MPa)</text>
<text transform="translate(355.3,511.7) rotate(-90) scale(1,1.09)" font-size="11.2" font-weight="bold" stroke="#000" stroke-width="0.3" fill="#000" textLength="187.3" lengthAdjust="spacing" word-spacing="0.8">Core compressive strength (MPa)</text>
<path d="M440.28 428.31h6.6v6.6h-6.6zM430.06 438.96h6.6v6.6h-6.6zM435.9 437.5h6.6v6.6h-6.6zM440.28 437.5h6.6v6.6h-6.6zM438.09 441.15h6.6v6.6h-6.6zM443.2 439.69h6.6v6.6h-6.6zM434.44 444.07h6.6v6.6h-6.6zM444.66 446.26h6.6v6.6h-6.6zM423.49 452.83h6.6v6.6h-6.6zM432.98 449.91h6.6v6.6h-6.6zM436.63 451.37h6.6v6.6h-6.6zM434.44 454.29h6.6v6.6h-6.6zM438.09 455.75h6.6v6.6h-6.6zM432.98 457.21h6.6v6.6h-6.6zM441.74 454.29h6.6v6.6h-6.6zM431.52 463.05h6.6v6.6h-6.6zM436.63 463.05h6.6v6.6h-6.6zM434.44 465.97h6.6v6.6h-6.6zM428.6 471.08h6.6v6.6h-6.6zM434.44 471.81h6.6v6.6h-6.6zM440.28 473.27h6.6v6.6h-6.6zM423.49 476.92h6.6v6.6h-6.6zM426.41 477.65h6.6v6.6h-6.6zM430.06 479.11h6.6v6.6h-6.6zM432.98 482.03h6.6v6.6h-6.6zM424.22 483.49h6.6v6.6h-6.6zM423.49 487.87h6.6v6.6h-6.6zM441.74 477.65h6.6v6.6h-6.6zM424.95 499.25h6.6v6.6h-6.6zM444.45 444.59h6.6v6.6h-6.6zM428.28 466.85h6.6v6.6h-6.6zM425.55 477.84h6.6v6.6h-6.6zM442.47 442.89h6.6v6.6h-6.6zM438.28 451.92h6.6v6.6h-6.6zM439.46 456.64h6.6v6.6h-6.6zM436.67 447.92h6.6v6.6h-6.6zM435.87 450.59h6.6v6.6h-6.6zM439.28 438.88h6.6v6.6h-6.6zM442.07 438.39h6.6v6.6h-6.6zM423.97 483.24h6.6v6.6h-6.6zM434.34 449.94h6.6v6.6h-6.6zM441.93 438.09h6.6v6.6h-6.6zM430.24 456.43h6.6v6.6h-6.6zM441.71 439.83h6.6v6.6h-6.6zM439.06 444.14h6.6v6.6h-6.6zM435.27 444.8h6.6v6.6h-6.6zM427.38 472.93h6.6v6.6h-6.6zM425 499.3h6.6v6.6h-6.6zM424.2 487.7h6.6v6.6h-6.6z" fill="none" stroke="#1e1e1e" stroke-width="0.95"/>
<g fill="none" stroke="#00f000" stroke-width="0.95"><circle cx="458.18" cy="431.61" r="3.45"/><circle cx="452.34" cy="441.53" r="3.45"/><circle cx="456.72" cy="440.07" r="3.45"/><circle cx="461.09" cy="440.8" r="3.45"/><circle cx="464.01" cy="440.8" r="3.45"/><circle cx="453.8" cy="445.91" r="3.45"/><circle cx="458.18" cy="445.91" r="3.45"/><circle cx="460.36" cy="449.56" r="3.45"/><circle cx="466.2" cy="450.29" r="3.45"/><circle cx="467.66" cy="454.67" r="3.45"/><circle cx="447.96" cy="456.13" r="3.45"/><circle cx="453.8" cy="456.13" r="3.45"/><circle cx="456.72" cy="457.59" r="3.45"/><circle cx="460.36" cy="459.05" r="3.45"/><circle cx="464.74" cy="459.05" r="3.45"/><circle cx="452.34" cy="461.97" r="3.45"/><circle cx="456.72" cy="463.43" r="3.45"/><circle cx="453.8" cy="466.35" r="3.45"/><circle cx="460.36" cy="464.89" r="3.45"/><circle cx="464.74" cy="467.08" r="3.45"/><circle cx="451.61" cy="470.73" r="3.45"/><circle cx="455.99" cy="472.19" r="3.45"/><circle cx="458.91" cy="475.11" r="3.45"/><circle cx="452.34" cy="476.57" r="3.45"/><circle cx="449.42" cy="480.95" r="3.45"/><circle cx="453.8" cy="480.95" r="3.45"/><circle cx="457.45" cy="479.49" r="3.45"/><circle cx="461.09" cy="484.6" r="3.45"/><circle cx="448.69" cy="486.79" r="3.45"/><circle cx="452.34" cy="486.79" r="3.45"/><circle cx="449.42" cy="491.17" r="3.45"/><circle cx="447.96" cy="494.09" r="3.45"/><circle cx="449.42" cy="502.55" r="3.45"/><circle cx="454.38" cy="469.09" r="3.45"/><circle cx="459.04" cy="444.24" r="3.45"/><circle cx="462.64" cy="455.71" r="3.45"/><circle cx="460.97" cy="444.31" r="3.45"/><circle cx="452.81" cy="458.18" r="3.45"/><circle cx="450.33" cy="476.42" r="3.45"/><circle cx="453.72" cy="476.77" r="3.45"/><circle cx="456.24" cy="457.2" r="3.45"/><circle cx="461.06" cy="455.43" r="3.45"/><circle cx="455.45" cy="455.99" r="3.45"/><circle cx="459.95" cy="449.35" r="3.45"/><circle cx="464.63" cy="449.26" r="3.45"/><circle cx="458.62" cy="454.98" r="3.45"/><circle cx="458.68" cy="452.07" r="3.45"/><circle cx="461.77" cy="461.21" r="3.45"/><circle cx="466.16" cy="444.48" r="3.45"/><circle cx="462.78" cy="458.48" r="3.45"/><circle cx="450.74" cy="477.88" r="3.45"/><circle cx="450.67" cy="481.33" r="3.45"/><circle cx="462.23" cy="454.52" r="3.45"/><circle cx="455.23" cy="477.65" r="3.45"/><circle cx="456.21" cy="479.78" r="3.45"/><circle cx="458.13" cy="472.48" r="3.45"/><circle cx="462.37" cy="461.4" r="3.45"/><circle cx="453.26" cy="476.56" r="3.45"/><circle cx="453.23" cy="465.83" r="3.45"/><circle cx="449.4" cy="502.6" r="3.45"/></g>
<line x1="530.2" y1="505.8" x2="402" y2="505.8" stroke="#ff18ff" stroke-width="2.4" stroke-dasharray="6.1 2.6"/>
<path d="M396 505.8l7.2 -3.3v6.6z" fill="#ff18ff"/>
<line x1="422.4" y1="407.7" x2="422.4" y2="529.3" stroke="#0f6ffa" stroke-width="2.5" stroke-dasharray="5.9 2.1"/>
<path d="M422.4 534.3l-3.5 -7.3h7z" fill="#0f6ffa"/>
<text transform="translate(406.5,316) scale(1,1.08)" font-size="12.6" font-weight="bold" stroke="#000" stroke-width="0.3" fill="#000" textLength="155.9" lengthAdjust="spacing">Gunseonganggyo Bridge,</text>
<text transform="translate(464.3,331.5) scale(1,1.08)" font-size="12.6" font-weight="bold" stroke="#000" stroke-width="0.3" fill="#000" textLength="37.4" lengthAdjust="spacing">Girder</text>
<rect x="583.3" y="500.3" width="6.4" height="6.4" fill="none" stroke="#1e1e1e" stroke-width="0.95"/>
<circle cx="586.5" cy="518.3" r="3.45" fill="none" stroke="#00f000" stroke-width="0.95"/>
<text transform="translate(601.9,508) scale(1,1.12)" font-size="11.65" stroke="#000" stroke-width="0.15" fill="#000">JSMS</text>
<text transform="translate(601.9,521.8) scale(1,1.12)" font-size="11.65" stroke="#000" stroke-width="0.15" fill="#000">AIJ</text>
<line x1="397.5" y1="300.4" x2="571.4" y2="300.4" stroke="#fff" stroke-opacity="0.42" stroke-width="1.6"/>
</g>
<g id="p5">
<line x1="50.3" y1="810.13" x2="330.8" y2="810.13" stroke="#9a9a9a" stroke-width="0.8"/>
<line x1="78.5" y1="598" x2="78.5" y2="833.7" stroke="#8c8c8c" stroke-width="0.9"/>
<line x1="51" y1="786.5" x2="330.8" y2="786.5" stroke="#4a4a4a" stroke-width="1" stroke-dasharray="1 1"/>
<line x1="106.5" y1="599" x2="106.5" y2="833.7" stroke="#4a4a4a" stroke-width="1" stroke-dasharray="1 1"/>
<line x1="50.3" y1="762.99" x2="330.8" y2="762.99" stroke="#9a9a9a" stroke-width="0.8"/>
<line x1="134.5" y1="598" x2="134.5" y2="833.7" stroke="#8c8c8c" stroke-width="0.9"/>
<line x1="51" y1="739.5" x2="330.8" y2="739.5" stroke="#4a4a4a" stroke-width="1" stroke-dasharray="1 1"/>
<line x1="162.5" y1="599" x2="162.5" y2="833.7" stroke="#4a4a4a" stroke-width="1" stroke-dasharray="1 1"/>
<line x1="50.3" y1="715.85" x2="330.8" y2="715.85" stroke="#9a9a9a" stroke-width="0.8"/>
<line x1="190.5" y1="598" x2="190.5" y2="833.7" stroke="#8c8c8c" stroke-width="0.9"/>
<line x1="51" y1="692.5" x2="330.8" y2="692.5" stroke="#4a4a4a" stroke-width="1" stroke-dasharray="1 1"/>
<line x1="218.5" y1="599" x2="218.5" y2="833.7" stroke="#4a4a4a" stroke-width="1" stroke-dasharray="1 1"/>
<line x1="50.3" y1="668.71" x2="330.8" y2="668.71" stroke="#9a9a9a" stroke-width="0.8"/>
<line x1="246.5" y1="598" x2="246.5" y2="833.7" stroke="#8c8c8c" stroke-width="0.9"/>
<line x1="51" y1="645.5" x2="330.8" y2="645.5" stroke="#4a4a4a" stroke-width="1" stroke-dasharray="1 1"/>
<line x1="274.5" y1="599" x2="274.5" y2="833.7" stroke="#4a4a4a" stroke-width="1" stroke-dasharray="1 1"/>
<line x1="50.3" y1="621.57" x2="330.8" y2="621.57" stroke="#9a9a9a" stroke-width="0.8"/>
<line x1="302.5" y1="598" x2="302.5" y2="833.7" stroke="#8c8c8c" stroke-width="0.9"/>
<rect x="54" y="601.7" width="175.5" height="36.5" fill="#fff"/>
<rect x="251.4" y="792.4" width="74.5" height="30.7" fill="#fff"/>
<line x1="50.3" y1="833.7" x2="330.8" y2="598" stroke="#ff3030" stroke-width="1.15"/>
<line x1="45.3" y1="833.7" x2="50.3" y2="833.7" stroke="#2c2c2c" stroke-width="1.1"/>
<line x1="50.3" y1="833.7" x2="50.3" y2="838.7" stroke="#2c2c2c" stroke-width="1.1"/>
<line x1="47.1" y1="810.13" x2="50.3" y2="810.13" stroke="#2c2c2c" stroke-width="1.1"/>
<line x1="78.35" y1="833.7" x2="78.35" y2="836.7" stroke="#2c2c2c" stroke-width="1.1"/>
<line x1="45.3" y1="786.56" x2="50.3" y2="786.56" stroke="#2c2c2c" stroke-width="1.1"/>
<line x1="106.4" y1="833.7" x2="106.4" y2="838.7" stroke="#2c2c2c" stroke-width="1.1"/>
<line x1="47.1" y1="762.99" x2="50.3" y2="762.99" stroke="#2c2c2c" stroke-width="1.1"/>
<line x1="134.45" y1="833.7" x2="134.45" y2="836.7" stroke="#2c2c2c" stroke-width="1.1"/>
<line x1="45.3" y1="739.42" x2="50.3" y2="739.42" stroke="#2c2c2c" stroke-width="1.1"/>
<line x1="162.5" y1="833.7" x2="162.5" y2="838.7" stroke="#2c2c2c" stroke-width="1.1"/>
<line x1="47.1" y1="715.85" x2="50.3" y2="715.85" stroke="#2c2c2c" stroke-width="1.1"/>
<line x1="190.55" y1="833.7" x2="190.55" y2="836.7" stroke="#2c2c2c" stroke-width="1.1"/>
<line x1="45.3" y1="692.28" x2="50.3" y2="692.28" stroke="#2c2c2c" stroke-width="1.1"/>
<line x1="218.6" y1="833.7" x2="218.6" y2="838.7" stroke="#2c2c2c" stroke-width="1.1"/>
<line x1="47.1" y1="668.71" x2="50.3" y2="668.71" stroke="#2c2c2c" stroke-width="1.1"/>
<line x1="246.65" y1="833.7" x2="246.65" y2="836.7" stroke="#2c2c2c" stroke-width="1.1"/>
<line x1="45.3" y1="645.14" x2="50.3" y2="645.14" stroke="#2c2c2c" stroke-width="1.1"/>
<line x1="274.7" y1="833.7" x2="274.7" y2="838.7" stroke="#2c2c2c" stroke-width="1.1"/>
<line x1="47.1" y1="621.57" x2="50.3" y2="621.57" stroke="#2c2c2c" stroke-width="1.1"/>
<line x1="302.75" y1="833.7" x2="302.75" y2="836.7" stroke="#2c2c2c" stroke-width="1.1"/>
<line x1="45.3" y1="598" x2="50.3" y2="598" stroke="#2c2c2c" stroke-width="1.1"/>
<line x1="330.8" y1="833.7" x2="330.8" y2="838.7" stroke="#2c2c2c" stroke-width="1.1"/>
<rect x="50.3" y="598" width="280.5" height="235.7" fill="none" stroke="#2c2c2c" stroke-width="1.2"/>
<text transform="translate(42.2,837.6) scale(1,1.075)" font-size="11.65" stroke="#000" stroke-width="0.15" fill="#000" text-anchor="end">0</text>
<text transform="translate(50.3,850.9) scale(1,1.075)" font-size="11.65" stroke="#000" stroke-width="0.15" fill="#000" text-anchor="middle">0</text>
<text transform="translate(42.2,790.46) scale(1,1.075)" font-size="11.65" stroke="#000" stroke-width="0.15" fill="#000" text-anchor="end">20</text>
<text transform="translate(106.4,850.9) scale(1,1.075)" font-size="11.65" stroke="#000" stroke-width="0.15" fill="#000" text-anchor="middle">20</text>
<text transform="translate(42.2,743.32) scale(1,1.075)" font-size="11.65" stroke="#000" stroke-width="0.15" fill="#000" text-anchor="end">40</text>
<text transform="translate(162.5,850.9) scale(1,1.075)" font-size="11.65" stroke="#000" stroke-width="0.15" fill="#000" text-anchor="middle">40</text>
<text transform="translate(42.2,696.18) scale(1,1.075)" font-size="11.65" stroke="#000" stroke-width="0.15" fill="#000" text-anchor="end">60</text>
<text transform="translate(218.6,850.9) scale(1,1.075)" font-size="11.65" stroke="#000" stroke-width="0.15" fill="#000" text-anchor="middle">60</text>
<text transform="translate(42.2,649.04) scale(1,1.075)" font-size="11.65" stroke="#000" stroke-width="0.15" fill="#000" text-anchor="end">80</text>
<text transform="translate(274.7,850.9) scale(1,1.075)" font-size="11.65" stroke="#000" stroke-width="0.15" fill="#000" text-anchor="middle">80</text>
<text transform="translate(42.2,601.9) scale(1,1.075)" font-size="11.65" stroke="#000" stroke-width="0.15" fill="#000" text-anchor="end">100</text>
<text transform="translate(330.8,850.9) scale(1,1.075)" font-size="11.65" stroke="#000" stroke-width="0.15" fill="#000" text-anchor="middle">100</text>
<text transform="translate(81.5,869.8) scale(1,1.085)" font-size="11.2" font-weight="bold" stroke="#000" stroke-width="0.3" fill="#000" textLength="207.1" lengthAdjust="spacing" word-spacing="0.8">Estimated compressive strength from</text>
<text transform="translate(153.7,884) scale(1,1.085)" font-size="11.2" font-weight="bold" stroke="#000" stroke-width="0.3" fill="#000" textLength="63.6" lengthAdjust="spacing">UPVT (MPa)</text>
<text transform="translate(10.2,806.7) rotate(-90) scale(1,1.09)" font-size="11.2" font-weight="bold" stroke="#000" stroke-width="0.3" fill="#000" textLength="184.6" lengthAdjust="spacing" word-spacing="0.8">Core compressive strength (MPa)</text>
<path d="M101.12 657.14h6.6v6.6h-6.6zM109.15 657.14h6.6v6.6h-6.6zM106.96 662.98h6.6v6.6h-6.6zM109.88 662.25h6.6v6.6h-6.6zM92.65 669.11h6.6v6.6h-6.6zM111.04 673.93h6.6v6.6h-6.6zM101.12 692.9h6.6v6.6h-6.6zM104.77 691.44h6.6v6.6h-6.6zM108.42 691.01h6.6v6.6h-6.6zM101.85 693.63h6.6v6.6h-6.6zM105.93 702.39h6.6v6.6h-6.6zM101.41 706.04h6.6v6.6h-6.6zM103.31 708.96h6.6v6.6h-6.6zM98.2 712.61h6.6v6.6h-6.6zM101.12 716.99h6.6v6.6h-6.6zM91.63 716.26h6.6v6.6h-6.6zM87.98 716.99h6.6v6.6h-6.6zM87.25 718.45h6.6v6.6h-6.6zM77.03 724.29h6.6v6.6h-6.6zM86.23 724h6.6v6.6h-6.6zM99.66 719.91h6.6v6.6h-6.6zM85.79 735.24h6.6v6.6h-6.6zM92.36 736.7h6.6v6.6h-6.6zM85.79 738.89h6.6v6.6h-6.6zM96.01 739.62h6.6v6.6h-6.6zM91.63 743.27h6.6v6.6h-6.6zM83.6 744.73h6.6v6.6h-6.6zM83.31 745.46h6.6v6.6h-6.6zM93.52 752.76h6.6v6.6h-6.6zM89.15 757.14h6.6v6.6h-6.6zM101.12 757.14h6.6v6.6h-6.6zM104.77 753.49h6.6v6.6h-6.6zM80.39 769.25h6.6v6.6h-6.6zM87.25 770.28h6.6v6.6h-6.6zM82.87 776.12h6.6v6.6h-6.6z" fill="none" stroke="#1e1e1e" stroke-width="0.95"/>
<g fill="none" stroke="#00f000" stroke-width="0.95"><circle cx="116.09" cy="659.71" r="3.45"/><circle cx="121.2" cy="660.44" r="3.45"/><circle cx="123.39" cy="665.55" r="3.45"/><circle cx="119.01" cy="667.01" r="3.45"/><circle cx="111.72" cy="672.41" r="3.45"/><circle cx="121.93" cy="676.79" r="3.45"/><circle cx="116.09" cy="696.2" r="3.45"/><circle cx="119.74" cy="694.01" r="3.45"/><circle cx="122.66" cy="694.01" r="3.45"/><circle cx="119.01" cy="705.69" r="3.45"/><circle cx="116.82" cy="710.07" r="3.45"/><circle cx="116.09" cy="714.45" r="3.45"/><circle cx="108.8" cy="720.29" r="3.45"/><circle cx="111.72" cy="721.02" r="3.45"/><circle cx="116.09" cy="723.21" r="3.45"/><circle cx="116.82" cy="723.94" r="3.45"/><circle cx="102.96" cy="727.59" r="3.45"/><circle cx="107.34" cy="727.3" r="3.45"/><circle cx="107.34" cy="738.54" r="3.45"/><circle cx="111.72" cy="740" r="3.45"/><circle cx="113.91" cy="742.92" r="3.45"/><circle cx="108.8" cy="743.65" r="3.45"/><circle cx="106.61" cy="748.03" r="3.45"/><circle cx="111.72" cy="747.3" r="3.45"/><circle cx="111.72" cy="756.06" r="3.45"/><circle cx="118.28" cy="756.79" r="3.45"/><circle cx="108.8" cy="760.44" r="3.45"/><circle cx="116.82" cy="760.44" r="3.45"/><circle cx="104.42" cy="772.55" r="3.45"/><circle cx="108.8" cy="773.14" r="3.45"/><circle cx="105.88" cy="779.42" r="3.45"/></g>
<line x1="184.3" y1="783.3" x2="55.7" y2="783.3" stroke="#ff18ff" stroke-width="2.4" stroke-dasharray="6.1 2.6"/>
<path d="M49.7 783.3l7.2 -3.3v6.6z" fill="#ff18ff"/>
<line x1="73.7" y1="703.9" x2="73.7" y2="825" stroke="#0f6ffa" stroke-width="2.5" stroke-dasharray="5.9 2.1"/>
<path d="M73.7 830l-3.5 -7.3h7z" fill="#0f6ffa"/>
<text transform="translate(73.7,617.2) scale(1,1.08)" font-size="12.6" font-weight="bold" stroke="#000" stroke-width="0.3" fill="#000" textLength="134.6" lengthAdjust="spacing">Sanseong-Ucheongyo</text>
<text transform="translate(104.4,632.3) scale(1,1.08)" font-size="12.6" font-weight="bold" stroke="#000" stroke-width="0.3" fill="#000" textLength="74.1" lengthAdjust="spacing">Bridge, Slab</text>
<rect x="238.9" y="798.7" width="6.4" height="6.4" fill="none" stroke="#1e1e1e" stroke-width="0.95"/>
<circle cx="242.1" cy="816.3" r="3.45" fill="none" stroke="#00f000" stroke-width="0.95"/>
<text transform="translate(261.1,805.2) scale(1,1.12)" font-size="11.65" stroke="#000" stroke-width="0.15" fill="#000">JSMS</text>
<text transform="translate(261.1,819.8) scale(1,1.12)" font-size="11.65" stroke="#000" stroke-width="0.15" fill="#000">AIJ</text>
</g>
<g id="p6">
<line x1="394.5" y1="811.71" x2="675.4" y2="811.71" stroke="#9a9a9a" stroke-width="0.8"/>
<line x1="422.5" y1="599.4" x2="422.5" y2="835.3" stroke="#8c8c8c" stroke-width="0.9"/>
<line x1="395" y1="788.5" x2="675.4" y2="788.5" stroke="#4a4a4a" stroke-width="1" stroke-dasharray="1 1"/>
<line x1="450.5" y1="600" x2="450.5" y2="835.3" stroke="#4a4a4a" stroke-width="1" stroke-dasharray="1 1"/>
<line x1="394.5" y1="764.53" x2="675.4" y2="764.53" stroke="#9a9a9a" stroke-width="0.8"/>
<line x1="478.5" y1="599.4" x2="478.5" y2="835.3" stroke="#8c8c8c" stroke-width="0.9"/>
<line x1="395" y1="740.5" x2="675.4" y2="740.5" stroke="#4a4a4a" stroke-width="1" stroke-dasharray="1 1"/>
<line x1="506.5" y1="600" x2="506.5" y2="835.3" stroke="#4a4a4a" stroke-width="1" stroke-dasharray="1 1"/>
<line x1="394.5" y1="717.35" x2="675.4" y2="717.35" stroke="#9a9a9a" stroke-width="0.8"/>
<line x1="534.5" y1="599.4" x2="534.5" y2="835.3" stroke="#8c8c8c" stroke-width="0.9"/>
<line x1="395" y1="693.5" x2="675.4" y2="693.5" stroke="#4a4a4a" stroke-width="1" stroke-dasharray="1 1"/>
<line x1="563.5" y1="600" x2="563.5" y2="835.3" stroke="#4a4a4a" stroke-width="1" stroke-dasharray="1 1"/>
<line x1="394.5" y1="670.17" x2="675.4" y2="670.17" stroke="#9a9a9a" stroke-width="0.8"/>
<line x1="591.5" y1="599.4" x2="591.5" y2="835.3" stroke="#8c8c8c" stroke-width="0.9"/>
<line x1="395" y1="646.5" x2="675.4" y2="646.5" stroke="#4a4a4a" stroke-width="1" stroke-dasharray="1 1"/>
<line x1="619.5" y1="600" x2="619.5" y2="835.3" stroke="#4a4a4a" stroke-width="1" stroke-dasharray="1 1"/>
<line x1="394.5" y1="622.99" x2="675.4" y2="622.99" stroke="#9a9a9a" stroke-width="0.8"/>
<line x1="647.5" y1="599.4" x2="647.5" y2="835.3" stroke="#8c8c8c" stroke-width="0.9"/>
<rect x="397" y="601.7" width="173.5" height="36.5" fill="#fff"/>
<rect x="592.4" y="792.8" width="77.5" height="31.2" fill="#fff"/>
<line x1="394.5" y1="835.3" x2="675.4" y2="599.4" stroke="#ff3030" stroke-width="1.15"/>
<line x1="389.5" y1="835.3" x2="394.5" y2="835.3" stroke="#2c2c2c" stroke-width="1.1"/>
<line x1="394.5" y1="835.3" x2="394.5" y2="840.3" stroke="#2c2c2c" stroke-width="1.1"/>
<line x1="391.3" y1="811.71" x2="394.5" y2="811.71" stroke="#2c2c2c" stroke-width="1.1"/>
<line x1="422.59" y1="835.3" x2="422.59" y2="838.3" stroke="#2c2c2c" stroke-width="1.1"/>
<line x1="389.5" y1="788.12" x2="394.5" y2="788.12" stroke="#2c2c2c" stroke-width="1.1"/>
<line x1="450.68" y1="835.3" x2="450.68" y2="840.3" stroke="#2c2c2c" stroke-width="1.1"/>
<line x1="391.3" y1="764.53" x2="394.5" y2="764.53" stroke="#2c2c2c" stroke-width="1.1"/>
<line x1="478.77" y1="835.3" x2="478.77" y2="838.3" stroke="#2c2c2c" stroke-width="1.1"/>
<line x1="389.5" y1="740.94" x2="394.5" y2="740.94" stroke="#2c2c2c" stroke-width="1.1"/>
<line x1="506.86" y1="835.3" x2="506.86" y2="840.3" stroke="#2c2c2c" stroke-width="1.1"/>
<line x1="391.3" y1="717.35" x2="394.5" y2="717.35" stroke="#2c2c2c" stroke-width="1.1"/>
<line x1="534.95" y1="835.3" x2="534.95" y2="838.3" stroke="#2c2c2c" stroke-width="1.1"/>
<line x1="389.5" y1="693.76" x2="394.5" y2="693.76" stroke="#2c2c2c" stroke-width="1.1"/>
<line x1="563.04" y1="835.3" x2="563.04" y2="840.3" stroke="#2c2c2c" stroke-width="1.1"/>
<line x1="391.3" y1="670.17" x2="394.5" y2="670.17" stroke="#2c2c2c" stroke-width="1.1"/>
<line x1="591.13" y1="835.3" x2="591.13" y2="838.3" stroke="#2c2c2c" stroke-width="1.1"/>
<line x1="389.5" y1="646.58" x2="394.5" y2="646.58" stroke="#2c2c2c" stroke-width="1.1"/>
<line x1="619.22" y1="835.3" x2="619.22" y2="840.3" stroke="#2c2c2c" stroke-width="1.1"/>
<line x1="391.3" y1="622.99" x2="394.5" y2="622.99" stroke="#2c2c2c" stroke-width="1.1"/>
<line x1="647.31" y1="835.3" x2="647.31" y2="838.3" stroke="#2c2c2c" stroke-width="1.1"/>
<line x1="389.5" y1="599.4" x2="394.5" y2="599.4" stroke="#2c2c2c" stroke-width="1.1"/>
<line x1="675.4" y1="835.3" x2="675.4" y2="840.3" stroke="#2c2c2c" stroke-width="1.1"/>
<rect x="394.5" y="599.4" width="280.9" height="235.9" fill="none" stroke="#2c2c2c" stroke-width="1.2"/>
<text transform="translate(386.4,839.2) scale(1,1.075)" font-size="11.65" stroke="#000" stroke-width="0.15" fill="#000" text-anchor="end">0</text>
<text transform="translate(394.5,852.5) scale(1,1.075)" font-size="11.65" stroke="#000" stroke-width="0.15" fill="#000" text-anchor="middle">0</text>
<text transform="translate(386.4,792.02) scale(1,1.075)" font-size="11.65" stroke="#000" stroke-width="0.15" fill="#000" text-anchor="end">20</text>
<text transform="translate(450.68,852.5) scale(1,1.075)" font-size="11.65" stroke="#000" stroke-width="0.15" fill="#000" text-anchor="middle">20</text>
<text transform="translate(386.4,744.84) scale(1,1.075)" font-size="11.65" stroke="#000" stroke-width="0.15" fill="#000" text-anchor="end">40</text>
<text transform="translate(506.86,852.5) scale(1,1.075)" font-size="11.65" stroke="#000" stroke-width="0.15" fill="#000" text-anchor="middle">40</text>
<text transform="translate(386.4,697.66) scale(1,1.075)" font-size="11.65" stroke="#000" stroke-width="0.15" fill="#000" text-anchor="end">60</text>
<text transform="translate(563.04,852.5) scale(1,1.075)" font-size="11.65" stroke="#000" stroke-width="0.15" fill="#000" text-anchor="middle">60</text>
<text transform="translate(386.4,650.48) scale(1,1.075)" font-size="11.65" stroke="#000" stroke-width="0.15" fill="#000" text-anchor="end">80</text>
<text transform="translate(619.22,852.5) scale(1,1.075)" font-size="11.65" stroke="#000" stroke-width="0.15" fill="#000" text-anchor="middle">80</text>
<text transform="translate(386.4,603.3) scale(1,1.075)" font-size="11.65" stroke="#000" stroke-width="0.15" fill="#000" text-anchor="end">100</text>
<text transform="translate(675.4,852.5) scale(1,1.075)" font-size="11.65" stroke="#000" stroke-width="0.15" fill="#000" text-anchor="middle">100</text>
<text transform="translate(430.3,869.6) scale(1,1.085)" font-size="11.2" font-weight="bold" stroke="#000" stroke-width="0.3" fill="#000" textLength="207.9" lengthAdjust="spacing" word-spacing="0.8">Estimated compressive strength from</text>
<text transform="translate(502.4,883.9) scale(1,1.085)" font-size="11.2" font-weight="bold" stroke="#000" stroke-width="0.3" fill="#000" textLength="64.6" lengthAdjust="spacing">UPVT (MPa)</text>
<text transform="translate(354.6,809.6) rotate(-90) scale(1,1.09)" font-size="11.2" font-weight="bold" stroke="#000" stroke-width="0.3" fill="#000" textLength="184.3" lengthAdjust="spacing" word-spacing="0.8">Core compressive strength (MPa)</text>
<path d="M446.12 693.93h6.6v6.6h-6.6zM433.42 705.61h6.6v6.6h-6.6zM440.57 707.36h6.6v6.6h-6.6zM448.31 705.9h6.6v6.6h-6.6zM437.36 715.39h6.6v6.6h-6.6zM441.74 716.12h6.6v6.6h-6.6zM433.71 719.04h6.6v6.6h-6.6zM444.66 721.96h6.6v6.6h-6.6zM438.09 724.88h6.6v6.6h-6.6zM429.33 729.25h6.6v6.6h-6.6zM435.9 729.98h6.6v6.6h-6.6zM441.74 729.25h6.6v6.6h-6.6zM438.82 734.36h6.6v6.6h-6.6zM432.98 738.01h6.6v6.6h-6.6zM438.09 738.74h6.6v6.6h-6.6zM443.93 736.55h6.6v6.6h-6.6zM430.79 742.39h6.6v6.6h-6.6zM435.9 743.85h6.6v6.6h-6.6zM441.74 744.58h6.6v6.6h-6.6zM428.6 748.96h6.6v6.6h-6.6zM434.44 748.96h6.6v6.6h-6.6zM440.28 749.69h6.6v6.6h-6.6zM429.33 756.26h6.6v6.6h-6.6zM435.17 756.26h6.6v6.6h-6.6zM441.74 756.99h6.6v6.6h-6.6zM431.81 764h6.6v6.6h-6.6zM441.74 764.29h6.6v6.6h-6.6zM441.44 768.67h6.6v6.6h-6.6zM447.87 767.21h6.6v6.6h-6.6zM433.42 782.54h6.6v6.6h-6.6zM443.2 802.54h6.6v6.6h-6.6zM435.17 724.88h6.6v6.6h-6.6zM439.55 740.2h6.6v6.6h-6.6zM432.25 734.36h6.6v6.6h-6.6zM442.3 716.37h6.6v6.6h-6.6zM439.11 737.57h6.6v6.6h-6.6zM428.94 732.08h6.6v6.6h-6.6zM440.44 741.19h6.6v6.6h-6.6zM429.82 765h6.6v6.6h-6.6zM443.56 764.33h6.6v6.6h-6.6zM430.59 728.76h6.6v6.6h-6.6zM429.35 754.62h6.6v6.6h-6.6zM433.73 721.91h6.6v6.6h-6.6zM436.61 761.29h6.6v6.6h-6.6zM444.14 728.41h6.6v6.6h-6.6zM431.43 761.68h6.6v6.6h-6.6zM439.43 750.66h6.6v6.6h-6.6zM430.3 718.28h6.6v6.6h-6.6zM441.66 736.81h6.6v6.6h-6.6zM429.97 762.65h6.6v6.6h-6.6zM440.64 755.76h6.6v6.6h-6.6zM430.19 758.51h6.6v6.6h-6.6zM429.86 758.84h6.6v6.6h-6.6zM437.21 732.47h6.6v6.6h-6.6zM439.09 762.06h6.6v6.6h-6.6zM433.68 721.89h6.6v6.6h-6.6z" fill="none" stroke="#1e1e1e" stroke-width="0.95"/>
<g fill="none" stroke="#00f000" stroke-width="0.95"><circle cx="461.39" cy="697.23" r="3.45"/><circle cx="453.8" cy="708.91" r="3.45"/><circle cx="459.64" cy="709.93" r="3.45"/><circle cx="462.85" cy="709.93" r="3.45"/><circle cx="456.72" cy="717.96" r="3.45"/><circle cx="460.36" cy="720.15" r="3.45"/><circle cx="466.2" cy="722.34" r="3.45"/><circle cx="453.8" cy="723.8" r="3.45"/><circle cx="458.18" cy="725.26" r="3.45"/><circle cx="462.55" cy="726.72" r="3.45"/><circle cx="464.74" cy="730.36" r="3.45"/><circle cx="452.34" cy="731.09" r="3.45"/><circle cx="456.72" cy="732.55" r="3.45"/><circle cx="461.09" cy="734.74" r="3.45"/><circle cx="464.01" cy="736.2" r="3.45"/><circle cx="451.61" cy="737.66" r="3.45"/><circle cx="455.26" cy="739.85" r="3.45"/><circle cx="459.64" cy="741.31" r="3.45"/><circle cx="453.8" cy="744.23" r="3.45"/><circle cx="458.18" cy="745.69" r="3.45"/><circle cx="461.82" cy="746.42" r="3.45"/><circle cx="462.55" cy="750.07" r="3.45"/><circle cx="450.88" cy="751.53" r="3.45"/><circle cx="455.26" cy="752.26" r="3.45"/><circle cx="458.91" cy="754.45" r="3.45"/><circle cx="453.8" cy="757.37" r="3.45"/><circle cx="461.09" cy="758.83" r="3.45"/><circle cx="451.61" cy="760.29" r="3.45"/><circle cx="456.72" cy="761.75" r="3.45"/><circle cx="460.36" cy="763.21" r="3.45"/><circle cx="453.8" cy="766.86" r="3.45"/><circle cx="461.82" cy="769.78" r="3.45"/><circle cx="458.91" cy="771.24" r="3.45"/><circle cx="453.8" cy="785.84" r="3.45"/><circle cx="459.64" cy="805.84" r="3.45"/><circle cx="449.42" cy="734.01" r="3.45"/><circle cx="448.69" cy="739.12" r="3.45"/><circle cx="457.35" cy="729.76" r="3.45"/><circle cx="450.83" cy="725.71" r="3.45"/><circle cx="449.91" cy="727.83" r="3.45"/><circle cx="454" cy="733.26" r="3.45"/><circle cx="460.99" cy="732.47" r="3.45"/><circle cx="456.94" cy="726.58" r="3.45"/><circle cx="454.54" cy="718.18" r="3.45"/><circle cx="453.04" cy="718.03" r="3.45"/><circle cx="460.58" cy="746.19" r="3.45"/><circle cx="452.08" cy="742.18" r="3.45"/><circle cx="463.72" cy="722.81" r="3.45"/><circle cx="461.92" cy="739.94" r="3.45"/><circle cx="456.86" cy="761.09" r="3.45"/><circle cx="455.26" cy="743.86" r="3.45"/><circle cx="459.87" cy="768.86" r="3.45"/><circle cx="454.48" cy="760.97" r="3.45"/><circle cx="460.16" cy="750.65" r="3.45"/><circle cx="455.45" cy="735.49" r="3.45"/><circle cx="449.97" cy="724.05" r="3.45"/><circle cx="450.23" cy="756.16" r="3.45"/><circle cx="453.12" cy="725.81" r="3.45"/><circle cx="450.44" cy="761.44" r="3.45"/><circle cx="462.72" cy="752.47" r="3.45"/><circle cx="453.53" cy="729.96" r="3.45"/><circle cx="453.7" cy="741.37" r="3.45"/><circle cx="451.58" cy="740.66" r="3.45"/><circle cx="453.24" cy="767.77" r="3.45"/><circle cx="464.32" cy="745.98" r="3.45"/></g>
<line x1="530.2" y1="811.8" x2="401.7" y2="811.8" stroke="#ff18ff" stroke-width="2.4" stroke-dasharray="6.1 2.6"/>
<path d="M395.7 811.8l7.2 -3.3v6.6z" fill="#ff18ff"/>
<line x1="426.4" y1="705.1" x2="426.4" y2="826.8" stroke="#0f6ffa" stroke-width="2.5" stroke-dasharray="5.9 2.1"/>
<path d="M426.4 831.8l-3.5 -7.3h7z" fill="#0f6ffa"/>
<text transform="translate(415.2,617.2) scale(1,1.08)" font-size="12.6" font-weight="bold" stroke="#000" stroke-width="0.3" fill="#000" textLength="134.6" lengthAdjust="spacing">Sanseong-Ucheongyo</text>
<text transform="translate(440.1,632.3) scale(1,1.08)" font-size="12.6" font-weight="bold" stroke="#000" stroke-width="0.3" fill="#000" textLength="84.9" lengthAdjust="spacing">Bridge, Girder</text>
<rect x="583.3" y="800.3" width="6.4" height="6.4" fill="none" stroke="#1e1e1e" stroke-width="0.95"/>
<circle cx="586.5" cy="818.1" r="3.45" fill="none" stroke="#00f000" stroke-width="0.95"/>
<text transform="translate(601.2,808) scale(1,1.12)" font-size="11.65" stroke="#000" stroke-width="0.15" fill="#000">JSMS</text>
<text transform="translate(601.2,821.8) scale(1,1.12)" font-size="11.65" stroke="#000" stroke-width="0.15" fill="#000">AIJ</text>
<path d="M666.5 800.3V807.5M666.5 814.7V822" stroke="#b8b8b8" stroke-width="0.8" fill="none"/>
</g>
<g id="p7">
<line x1="50.4" y1="1108.43" x2="330.8" y2="1108.43" stroke="#9a9a9a" stroke-width="0.8"/>
<line x1="78.5" y1="896.3" x2="78.5" y2="1132" stroke="#8c8c8c" stroke-width="0.9"/>
<line x1="51" y1="1084.5" x2="330.8" y2="1084.5" stroke="#4a4a4a" stroke-width="1" stroke-dasharray="1 1"/>
<line x1="106.5" y1="897" x2="106.5" y2="1132" stroke="#4a4a4a" stroke-width="1" stroke-dasharray="1 1"/>
<line x1="50.4" y1="1061.29" x2="330.8" y2="1061.29" stroke="#9a9a9a" stroke-width="0.8"/>
<line x1="134.5" y1="896.3" x2="134.5" y2="1132" stroke="#8c8c8c" stroke-width="0.9"/>
<line x1="51" y1="1037.5" x2="330.8" y2="1037.5" stroke="#4a4a4a" stroke-width="1" stroke-dasharray="1 1"/>
<line x1="162.5" y1="897" x2="162.5" y2="1132" stroke="#4a4a4a" stroke-width="1" stroke-dasharray="1 1"/>
<line x1="50.4" y1="1014.15" x2="330.8" y2="1014.15" stroke="#9a9a9a" stroke-width="0.8"/>
<line x1="190.5" y1="896.3" x2="190.5" y2="1132" stroke="#8c8c8c" stroke-width="0.9"/>
<line x1="51" y1="990.5" x2="330.8" y2="990.5" stroke="#4a4a4a" stroke-width="1" stroke-dasharray="1 1"/>
<line x1="218.5" y1="897" x2="218.5" y2="1132" stroke="#4a4a4a" stroke-width="1" stroke-dasharray="1 1"/>
<line x1="50.4" y1="967.01" x2="330.8" y2="967.01" stroke="#9a9a9a" stroke-width="0.8"/>
<line x1="246.5" y1="896.3" x2="246.5" y2="1132" stroke="#8c8c8c" stroke-width="0.9"/>
<line x1="51" y1="943.5" x2="330.8" y2="943.5" stroke="#4a4a4a" stroke-width="1" stroke-dasharray="1 1"/>
<line x1="274.5" y1="897" x2="274.5" y2="1132" stroke="#4a4a4a" stroke-width="1" stroke-dasharray="1 1"/>
<line x1="50.4" y1="919.87" x2="330.8" y2="919.87" stroke="#9a9a9a" stroke-width="0.8"/>
<line x1="302.5" y1="896.3" x2="302.5" y2="1132" stroke="#8c8c8c" stroke-width="0.9"/>
<rect x="53.5" y="897.1" width="174" height="37" fill="#fff"/>
<rect x="250.2" y="1092" width="75.7" height="28.8" fill="#fff"/>
<line x1="50.4" y1="1132" x2="330.8" y2="896.3" stroke="#ff3030" stroke-width="1.15"/>
<line x1="45.4" y1="1132" x2="50.4" y2="1132" stroke="#2c2c2c" stroke-width="1.1"/>
<line x1="50.4" y1="1132" x2="50.4" y2="1137" stroke="#2c2c2c" stroke-width="1.1"/>
<line x1="47.2" y1="1108.43" x2="50.4" y2="1108.43" stroke="#2c2c2c" stroke-width="1.1"/>
<line x1="78.44" y1="1132" x2="78.44" y2="1135" stroke="#2c2c2c" stroke-width="1.1"/>
<line x1="45.4" y1="1084.86" x2="50.4" y2="1084.86" stroke="#2c2c2c" stroke-width="1.1"/>
<line x1="106.48" y1="1132" x2="106.48" y2="1137" stroke="#2c2c2c" stroke-width="1.1"/>
<line x1="47.2" y1="1061.29" x2="50.4" y2="1061.29" stroke="#2c2c2c" stroke-width="1.1"/>
<line x1="134.52" y1="1132" x2="134.52" y2="1135" stroke="#2c2c2c" stroke-width="1.1"/>
<line x1="45.4" y1="1037.72" x2="50.4" y2="1037.72" stroke="#2c2c2c" stroke-width="1.1"/>
<line x1="162.56" y1="1132" x2="162.56" y2="1137" stroke="#2c2c2c" stroke-width="1.1"/>
<line x1="47.2" y1="1014.15" x2="50.4" y2="1014.15" stroke="#2c2c2c" stroke-width="1.1"/>
<line x1="190.6" y1="1132" x2="190.6" y2="1135" stroke="#2c2c2c" stroke-width="1.1"/>
<line x1="45.4" y1="990.58" x2="50.4" y2="990.58" stroke="#2c2c2c" stroke-width="1.1"/>
<line x1="218.64" y1="1132" x2="218.64" y2="1137" stroke="#2c2c2c" stroke-width="1.1"/>
<line x1="47.2" y1="967.01" x2="50.4" y2="967.01" stroke="#2c2c2c" stroke-width="1.1"/>
<line x1="246.68" y1="1132" x2="246.68" y2="1135" stroke="#2c2c2c" stroke-width="1.1"/>
<line x1="45.4" y1="943.44" x2="50.4" y2="943.44" stroke="#2c2c2c" stroke-width="1.1"/>
<line x1="274.72" y1="1132" x2="274.72" y2="1137" stroke="#2c2c2c" stroke-width="1.1"/>
<line x1="47.2" y1="919.87" x2="50.4" y2="919.87" stroke="#2c2c2c" stroke-width="1.1"/>
<line x1="302.76" y1="1132" x2="302.76" y2="1135" stroke="#2c2c2c" stroke-width="1.1"/>
<line x1="45.4" y1="896.3" x2="50.4" y2="896.3" stroke="#2c2c2c" stroke-width="1.1"/>
<line x1="330.8" y1="1132" x2="330.8" y2="1137" stroke="#2c2c2c" stroke-width="1.1"/>
<rect x="50.4" y="896.3" width="280.4" height="235.7" fill="none" stroke="#2c2c2c" stroke-width="1.2"/>
<text transform="translate(42.3,1135.9) scale(1,1.075)" font-size="11.65" stroke="#000" stroke-width="0.15" fill="#000" text-anchor="end">0</text>
<text transform="translate(50.4,1149.2) scale(1,1.075)" font-size="11.65" stroke="#000" stroke-width="0.15" fill="#000" text-anchor="middle">0</text>
<text transform="translate(42.3,1088.76) scale(1,1.075)" font-size="11.65" stroke="#000" stroke-width="0.15" fill="#000" text-anchor="end">20</text>
<text transform="translate(106.48,1149.2) scale(1,1.075)" font-size="11.65" stroke="#000" stroke-width="0.15" fill="#000" text-anchor="middle">20</text>
<text transform="translate(42.3,1041.62) scale(1,1.075)" font-size="11.65" stroke="#000" stroke-width="0.15" fill="#000" text-anchor="end">40</text>
<text transform="translate(162.56,1149.2) scale(1,1.075)" font-size="11.65" stroke="#000" stroke-width="0.15" fill="#000" text-anchor="middle">40</text>
<text transform="translate(42.3,994.48) scale(1,1.075)" font-size="11.65" stroke="#000" stroke-width="0.15" fill="#000" text-anchor="end">60</text>
<text transform="translate(218.64,1149.2) scale(1,1.075)" font-size="11.65" stroke="#000" stroke-width="0.15" fill="#000" text-anchor="middle">60</text>
<text transform="translate(42.3,947.34) scale(1,1.075)" font-size="11.65" stroke="#000" stroke-width="0.15" fill="#000" text-anchor="end">80</text>
<text transform="translate(274.72,1149.2) scale(1,1.075)" font-size="11.65" stroke="#000" stroke-width="0.15" fill="#000" text-anchor="middle">80</text>
<text transform="translate(42.3,900.2) scale(1,1.075)" font-size="11.65" stroke="#000" stroke-width="0.15" fill="#000" text-anchor="end">100</text>
<text transform="translate(330.8,1149.2) scale(1,1.075)" font-size="11.65" stroke="#000" stroke-width="0.15" fill="#000" text-anchor="middle">100</text>
<text transform="translate(80.2,1165.9) scale(1,1.085)" font-size="11.2" font-weight="bold" stroke="#000" stroke-width="0.3" fill="#000" textLength="207.1" lengthAdjust="spacing" word-spacing="0.8">Estimated compressive strength from</text>
<text transform="translate(152.1,1179.7) scale(1,1.085)" font-size="11.2" font-weight="bold" stroke="#000" stroke-width="0.3" fill="#000" textLength="63.6" lengthAdjust="spacing">UPVT (MPa)</text>
<text transform="translate(8.4,1101.8) rotate(-90) scale(1,1.09)" font-size="11.2" font-weight="bold" stroke="#000" stroke-width="0.3" fill="#000" textLength="184.4" lengthAdjust="spacing" word-spacing="0.8">Core compressive strength (MPa)</text>
<path d="M101.12 997.87h6.6v6.6h-6.6zM98.2 1002.98h6.6v6.6h-6.6zM101.85 1005.9h6.6v6.6h-6.6zM94.98 1009.55h6.6v6.6h-6.6zM99.66 1011.74h6.6v6.6h-6.6zM117.9 1007.65h6.6v6.6h-6.6zM96.74 1019.04h6.6v6.6h-6.6zM101.85 1019.04h6.6v6.6h-6.6zM109.15 1018.74h6.6v6.6h-6.6zM121.55 1019.04h6.6v6.6h-6.6zM123.01 1019.77h6.6v6.6h-6.6zM97.47 1025.61h6.6v6.6h-6.6zM101.12 1029.98h6.6v6.6h-6.6zM100.39 1031.44h6.6v6.6h-6.6zM112.79 1029.98h6.6v6.6h-6.6zM94.55 1035.09h6.6v6.6h-6.6zM100.39 1035.82h6.6v6.6h-6.6zM96.74 1043.12h6.6v6.6h-6.6zM88.27 1046.04h6.6v6.6h-6.6zM90.9 1052.9h6.6v6.6h-6.6zM86.23 1061.08h6.6v6.6h-6.6zM93.09 1062.83h6.6v6.6h-6.6zM90.17 1066.48h6.6v6.6h-6.6zM94.55 1067.94h6.6v6.6h-6.6zM96.01 1070.13h6.6v6.6h-6.6zM96.74 1072.32h6.6v6.6h-6.6zM101.12 1071.59h6.6v6.6h-6.6zM85.06 1080.64h6.6v6.6h-6.6zM93.52 1078.6h6.6v6.6h-6.6zM118.93 1078.45h6.6v6.6h-6.6zM89.73 1084.73h6.6v6.6h-6.6zM87.69 1088.38h6.6v6.6h-6.6zM102.58 1087.65h6.6v6.6h-6.6zM98.2 1093.49h6.6v6.6h-6.6zM98.2 1097.87h6.6v6.6h-6.6zM98.93 1099.33h6.6v6.6h-6.6zM91.94 1074.08h6.6v6.6h-6.6zM92.6 1066.53h6.6v6.6h-6.6zM89.45 1066.84h6.6v6.6h-6.6zM94.29 1068.34h6.6v6.6h-6.6zM91.49 1068.36h6.6v6.6h-6.6zM89.49 1065.38h6.6v6.6h-6.6zM90.35 1067.06h6.6v6.6h-6.6zM89.86 1062.38h6.6v6.6h-6.6z" fill="none" stroke="#1e1e1e" stroke-width="0.95"/>
<g fill="none" stroke="#00f000" stroke-width="0.95"><circle cx="116.39" cy="1001.17" r="3.45"/><circle cx="114.64" cy="1006.28" r="3.45"/><circle cx="115.36" cy="1009.2" r="3.45"/><circle cx="112.45" cy="1013.58" r="3.45"/><circle cx="115.36" cy="1015.77" r="3.45"/><circle cx="126.31" cy="1010.95" r="3.45"/><circle cx="114.64" cy="1022.34" r="3.45"/><circle cx="120.47" cy="1021.61" r="3.45"/><circle cx="127.77" cy="1022.34" r="3.45"/><circle cx="129.23" cy="1023.07" r="3.45"/><circle cx="113.91" cy="1028.91" r="3.45"/><circle cx="116.82" cy="1033.28" r="3.45"/><circle cx="123.39" cy="1033.28" r="3.45"/><circle cx="113.18" cy="1039.12" r="3.45"/><circle cx="116.09" cy="1038.39" r="3.45"/><circle cx="113.91" cy="1046.42" r="3.45"/><circle cx="108.8" cy="1049.34" r="3.45"/><circle cx="110.99" cy="1056.2" r="3.45"/><circle cx="108.8" cy="1064.38" r="3.45"/><circle cx="111.72" cy="1066.13" r="3.45"/><circle cx="115.36" cy="1067.59" r="3.45"/><circle cx="112.45" cy="1070.51" r="3.45"/><circle cx="114.64" cy="1073.43" r="3.45"/><circle cx="116.09" cy="1075.62" r="3.45"/><circle cx="116.82" cy="1079.27" r="3.45"/><circle cx="108.8" cy="1082.19" r="3.45"/><circle cx="113.18" cy="1082.19" r="3.45"/><circle cx="127.04" cy="1081.75" r="3.45"/><circle cx="110.26" cy="1088.03" r="3.45"/><circle cx="108.8" cy="1091.68" r="3.45"/><circle cx="116.82" cy="1090.95" r="3.45"/><circle cx="113.91" cy="1096.79" r="3.45"/><circle cx="114.64" cy="1101.17" r="3.45"/><circle cx="115.36" cy="1102.63" r="3.45"/><circle cx="110.73" cy="1068.97" r="3.45"/><circle cx="113.19" cy="1073.51" r="3.45"/><circle cx="114.64" cy="1075.48" r="3.45"/><circle cx="114.34" cy="1078.88" r="3.45"/><circle cx="111.48" cy="1070.4" r="3.45"/><circle cx="116.69" cy="1067.69" r="3.45"/><circle cx="114.41" cy="1075.26" r="3.45"/><circle cx="108.45" cy="1078.21" r="3.45"/></g>
<line x1="186.3" y1="1107.8" x2="57.7" y2="1107.8" stroke="#ff18ff" stroke-width="2.4" stroke-dasharray="6.1 2.6"/>
<path d="M51.7 1107.8l7.2 -3.3v6.6z" fill="#ff18ff"/>
<line x1="83.4" y1="1000.1" x2="83.4" y2="1121.7" stroke="#0f6ffa" stroke-width="2.5" stroke-dasharray="5.9 2.1"/>
<path d="M83.4 1126.7l-3.5 -7.3h7z" fill="#0f6ffa"/>
<text transform="translate(69.3,913.7) scale(1,1.08)" font-size="12.6" font-weight="bold" stroke="#000" stroke-width="0.3" fill="#000" textLength="141" lengthAdjust="spacing">Mojeon-yukgyo Bridge,</text>
<text transform="translate(127.1,928.9) scale(1,1.08)" font-size="12.6" font-weight="bold" stroke="#000" stroke-width="0.3" fill="#000" textLength="26.3" lengthAdjust="spacing">Slab</text>
<rect x="238.9" y="1096.4" width="6.4" height="6.4" fill="none" stroke="#1e1e1e" stroke-width="0.95"/>
<circle cx="242.1" cy="1114.1" r="3.45" fill="none" stroke="#00f000" stroke-width="0.95"/>
<text transform="translate(259.8,1103.7) scale(1,1.12)" font-size="11.65" stroke="#000" stroke-width="0.15" fill="#000">JSMS</text>
<text transform="translate(259.8,1117.7) scale(1,1.12)" font-size="11.65" stroke="#000" stroke-width="0.15" fill="#000">AIJ</text>
</g>
</svg>
</body></html>
